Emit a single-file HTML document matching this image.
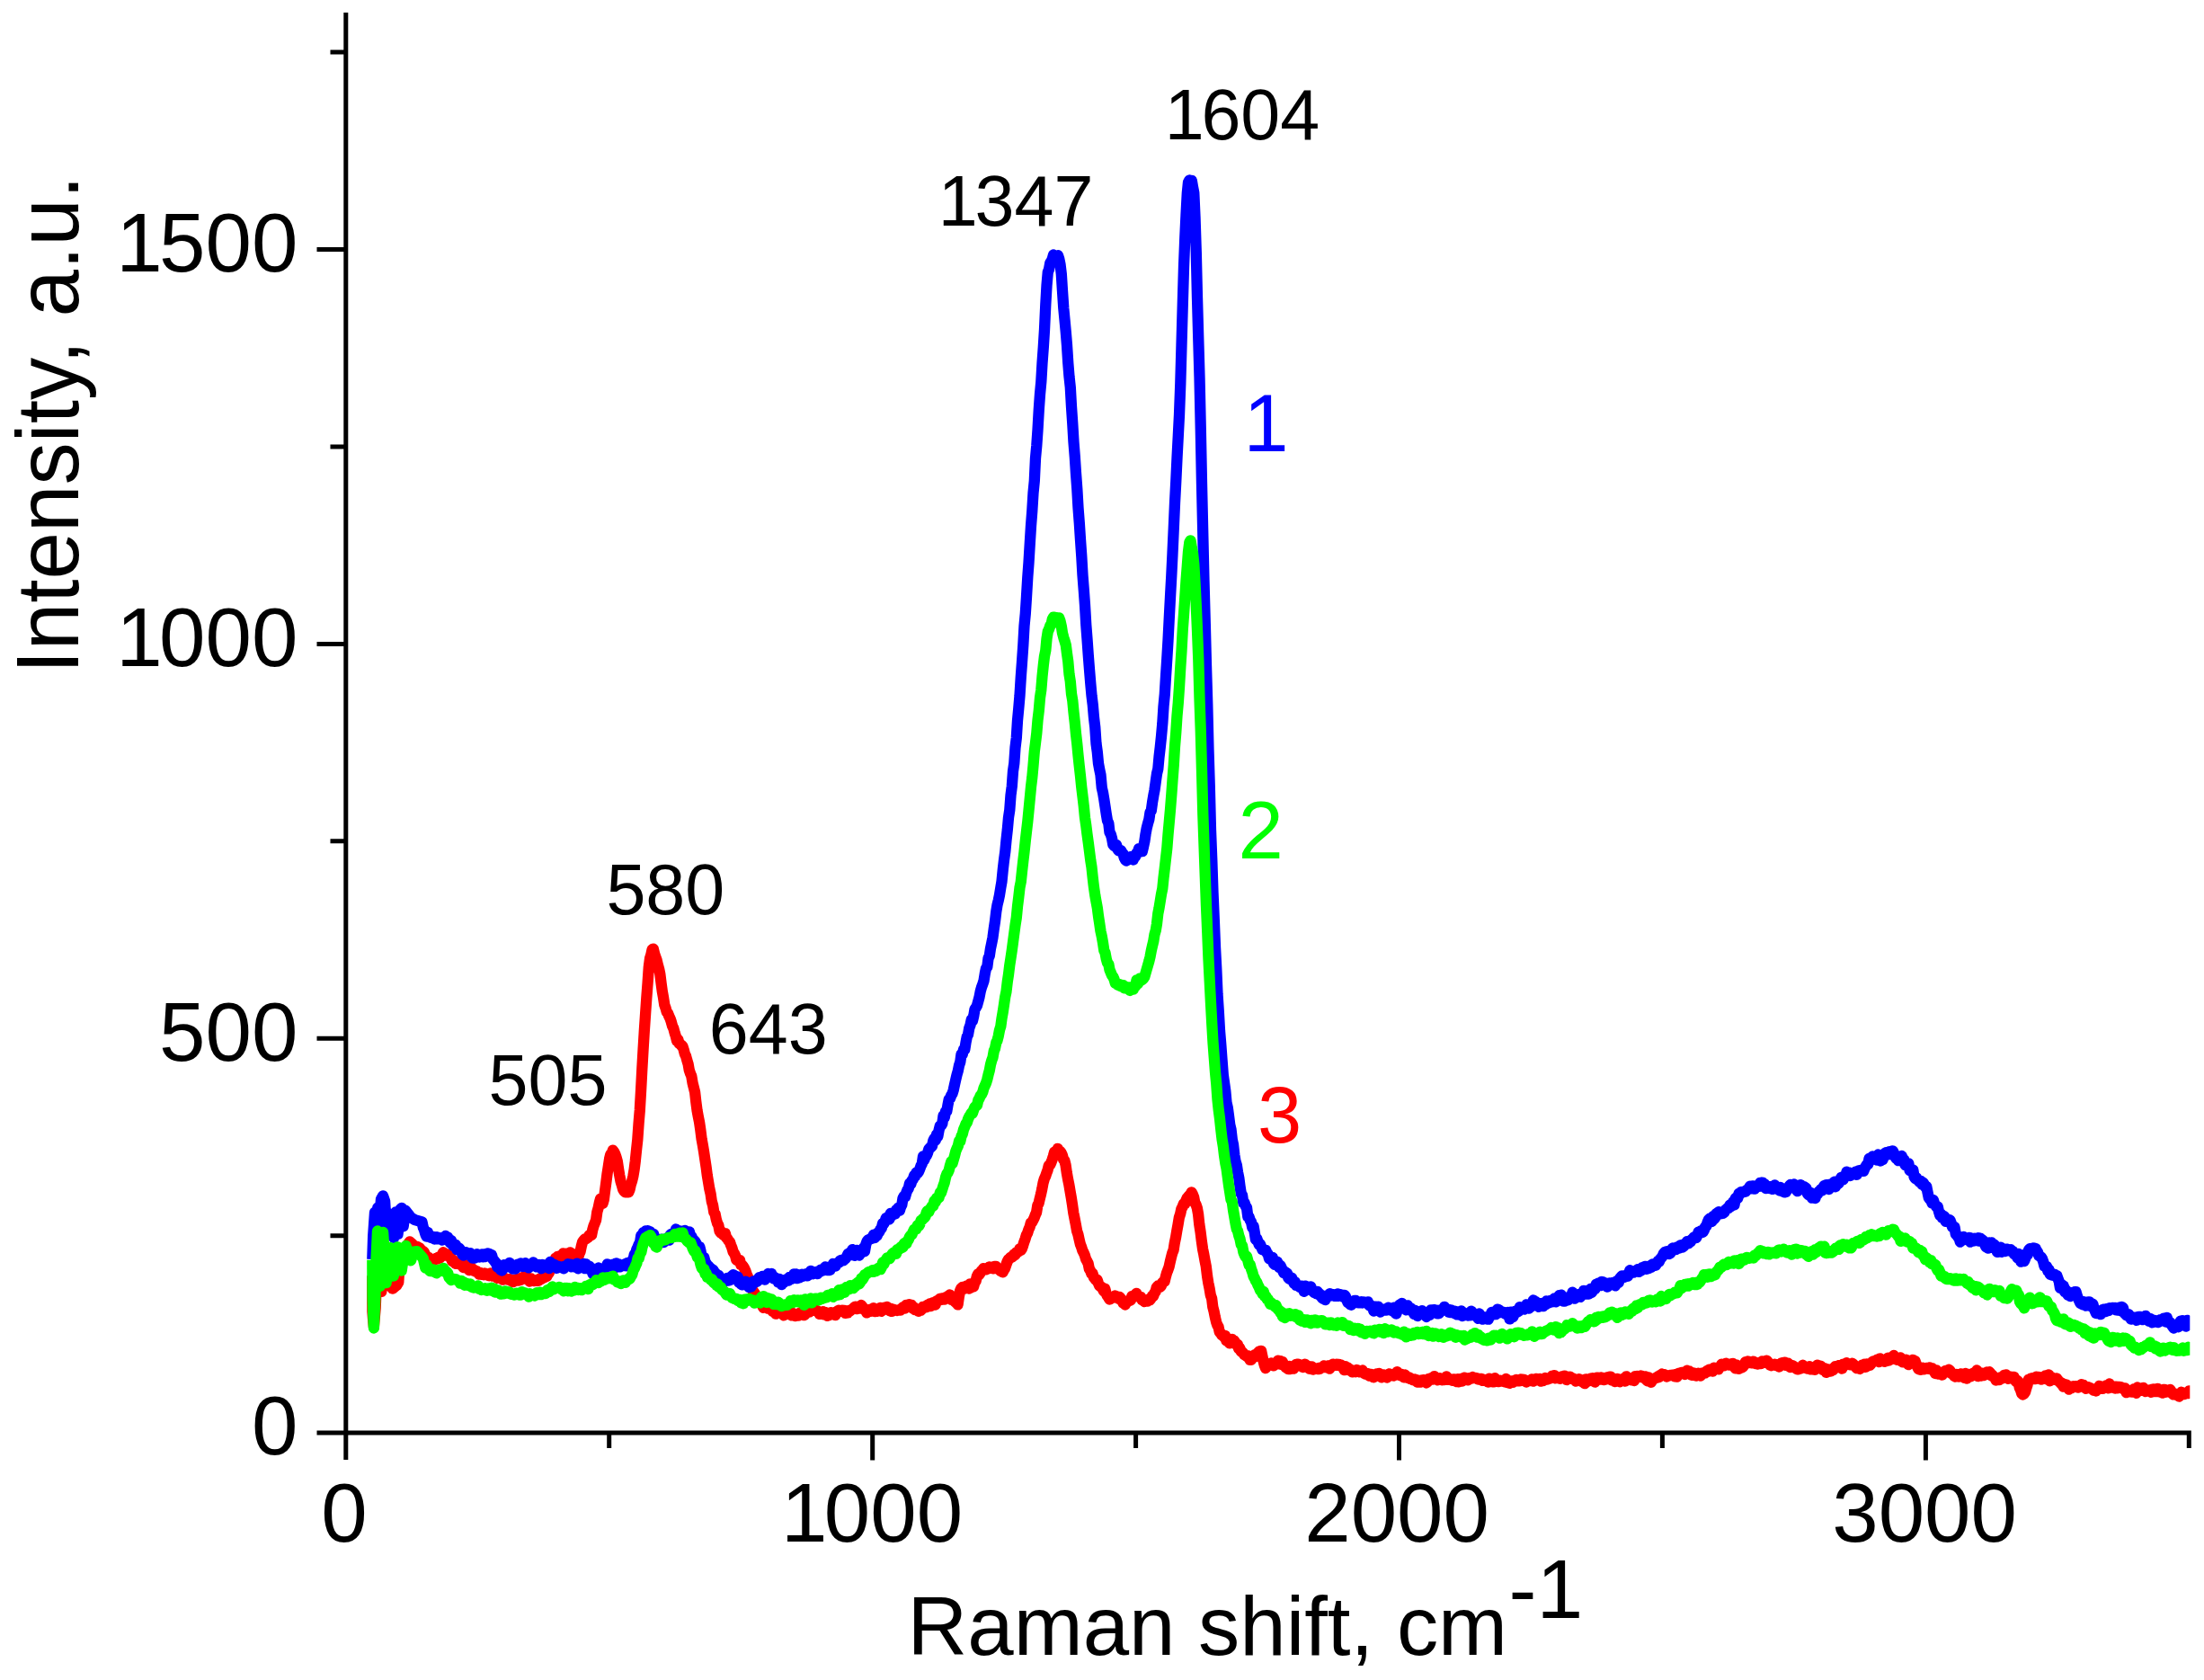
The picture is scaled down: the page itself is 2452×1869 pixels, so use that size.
<!DOCTYPE html>
<html lang="en">
<head>
<meta charset="utf-8">
<title>Raman spectra</title>
<style>
html,body{margin:0;padding:0;background:#fff;}
body{width:2452px;height:1869px;overflow:hidden;}
svg{display:block;}
</style>
</head>
<body>
<svg width="2452" height="1869" viewBox="0 0 2452 1869" font-family="'Liberation Sans', Arial, sans-serif">
<rect width="2452" height="1869" fill="#fff"/>
<defs><clipPath id="plotclip"><rect x="408.2" y="0" width="2028.1" height="1869"/></clipPath></defs>
<g clip-path="url(#plotclip)">
<polyline fill="none" stroke="#ff0000" stroke-width="12.3" stroke-linejoin="round" stroke-linecap="butt" points="414.1,1419.3 414.2,1458.8 415.9,1475.8 417.7,1455.1 419.1,1420.4 420.4,1399.1 422.0,1421.0 424.3,1436.9 426.5,1420.6 428.8,1409.3 432.2,1426.6 436.7,1433.6 441.2,1430.0 443.3,1426.5 444.2,1411.2 445.8,1397.7 449.2,1393.1 452.6,1385.9 455.9,1381.4 459.3,1384.6 460.6,1385.7 461.8,1386.8 463.1,1386.8 464.3,1386.8 465.6,1388.0 466.8,1388.2 468.1,1390.4 469.3,1393.0 470.6,1391.8 471.8,1393.0 473.1,1395.8 474.3,1397.3 475.6,1398.6 476.8,1398.8 478.1,1401.1 479.3,1403.0 480.6,1401.2 481.8,1402.6 483.1,1400.7 484.3,1401.0 485.6,1399.6 486.8,1400.7 488.1,1398.5 489.3,1399.4 490.6,1398.2 491.8,1396.8 493.1,1393.2 494.3,1395.3 495.6,1396.1 496.8,1396.8 498.1,1395.5 499.3,1397.9 500.6,1398.4 501.8,1399.7 503.1,1403.1 504.3,1401.9 505.6,1403.9 506.8,1405.9 508.1,1404.8 509.3,1405.8 510.6,1406.3 511.8,1406.6 513.1,1405.5 514.3,1407.8 515.6,1410.0 516.8,1407.0 518.1,1410.5 519.3,1410.1 520.6,1409.5 521.8,1413.1 523.1,1411.9 524.3,1410.1 525.6,1412.4 526.8,1413.7 528.1,1413.2 529.3,1414.7 530.6,1414.3 531.8,1415.9 533.1,1417.7 534.3,1416.0 535.6,1417.8 536.8,1417.4 538.1,1418.3 539.3,1416.6 540.6,1417.1 541.8,1417.5 543.1,1418.8 544.3,1419.3 545.6,1416.5 546.8,1417.5 548.1,1419.7 549.3,1416.9 550.6,1419.2 551.8,1420.0 553.1,1421.9 554.3,1421.4 555.6,1420.4 556.8,1420.6 558.1,1421.2 559.3,1423.7 560.6,1421.6 561.8,1422.0 563.1,1423.2 564.3,1423.2 565.6,1423.7 566.8,1423.1 568.1,1424.8 569.3,1424.4 570.6,1426.2 571.8,1425.2 573.1,1423.8 574.3,1424.4 575.6,1423.0 576.8,1424.7 578.1,1423.3 579.3,1423.9 580.6,1421.2 581.8,1422.9 583.1,1420.2 584.3,1419.7 585.6,1421.9 586.8,1421.2 588.1,1422.6 589.3,1425.6 590.6,1422.3 591.8,1423.2 593.1,1424.6 594.3,1425.1 595.6,1424.2 596.8,1424.0 598.1,1425.0 599.3,1424.6 600.6,1422.4 601.8,1423.1 603.1,1422.5 604.3,1420.4 605.6,1421.2 606.8,1418.9 608.1,1420.2 609.3,1418.0 610.6,1416.3 611.8,1413.4 613.1,1411.6 614.3,1406.7 615.6,1405.2 616.8,1404.6 618.1,1399.6 619.3,1402.0 620.6,1397.8 621.8,1400.0 623.1,1397.3 624.3,1398.6 625.6,1397.1 626.8,1394.3 628.1,1397.1 629.3,1396.9 630.6,1394.7 631.8,1394.3 633.1,1394.3 634.3,1393.4 635.6,1396.4 636.8,1394.9 638.1,1396.0 639.3,1395.6 640.6,1396.3 641.8,1395.8 643.1,1399.0 644.3,1395.1 645.6,1392.3 646.8,1386.4 648.1,1381.6 649.3,1380.0 650.6,1378.5 651.8,1378.5 653.1,1377.5 654.3,1376.7 655.6,1374.2 656.8,1373.3 658.1,1374.0 659.3,1368.0 660.6,1363.5 661.8,1360.6 663.1,1357.3 664.3,1348.4 665.6,1343.9 666.8,1338.2 668.1,1333.5 669.3,1336.6 670.6,1338.7 671.8,1334.5 673.1,1324.5 674.3,1315.6 675.6,1305.4 676.8,1297.7 678.1,1289.1 679.3,1284.3 680.6,1283.9 681.8,1279.7 683.1,1281.4 684.3,1283.9 685.6,1287.5 686.8,1291.9 688.1,1300.6 689.3,1307.8 690.6,1314.5 691.8,1318.4 693.1,1323.0 694.3,1325.0 695.6,1326.4 696.8,1326.3 698.1,1325.2 699.3,1326.4 700.6,1323.3 701.8,1317.8 703.1,1313.9 704.3,1308.9 705.6,1301.3 706.8,1291.7 708.1,1278.8 709.3,1268.0 710.6,1249.5 711.8,1235.2 713.1,1212.6 714.3,1189.6 715.6,1166.8 716.8,1147.2 718.1,1127.9 719.3,1110.3 720.6,1093.6 721.8,1076.0 723.1,1066.1 724.3,1062.2 725.6,1056.2 726.8,1055.6 728.1,1061.0 729.3,1064.5 730.6,1068.1 731.8,1073.2 733.1,1077.8 734.3,1083.5 735.6,1093.9 736.8,1102.9 738.1,1110.2 739.3,1118.0 740.6,1121.6 741.8,1126.0 743.1,1127.3 744.3,1130.6 745.6,1133.2 746.8,1136.8 748.1,1141.6 749.3,1144.0 750.6,1149.0 751.8,1152.7 753.1,1158.1 754.3,1156.5 755.6,1161.2 756.8,1161.6 758.1,1163.3 759.3,1163.7 760.6,1167.6 761.8,1172.3 763.1,1175.0 764.3,1179.5 765.6,1183.8 766.8,1190.6 768.1,1194.4 769.3,1197.2 770.6,1204.9 771.8,1209.7 773.1,1214.9 774.3,1225.7 775.6,1235.7 776.8,1242.1 778.1,1248.6 779.3,1256.9 780.6,1267.2 781.8,1273.7 783.1,1281.6 784.3,1289.7 785.6,1298.2 786.8,1307.5 788.1,1315.3 789.3,1322.5 790.6,1328.1 791.8,1336.5 793.1,1341.0 794.3,1348.5 795.6,1350.6 796.8,1356.5 798.1,1360.9 799.3,1363.0 800.6,1369.8 801.8,1371.5 803.1,1370.5 804.3,1373.5 805.6,1374.5 806.8,1372.1 808.1,1377.0 809.3,1378.2 810.6,1380.4 811.8,1381.4 813.1,1385.1 814.3,1388.0 815.6,1392.5 816.8,1394.3 818.1,1396.9 819.3,1401.7 820.6,1401.3 821.8,1403.0 823.1,1402.1 824.3,1407.1 825.6,1407.3 826.8,1408.8 828.1,1411.0 829.3,1413.6 830.6,1417.3 831.8,1420.2 833.1,1423.6 834.3,1427.3 835.6,1432.4 836.8,1434.5 838.1,1436.6 839.3,1438.3 840.6,1440.3 841.8,1445.0 843.1,1445.6 844.3,1447.0 845.6,1448.5 846.8,1449.5 848.1,1452.4 849.3,1454.8 850.6,1454.1 851.8,1454.6 853.1,1454.9 854.3,1455.6 855.6,1453.9 856.8,1456.0 858.1,1455.8 859.3,1458.7 860.6,1457.5 861.8,1459.9 863.1,1461.7 864.3,1459.7 865.6,1459.5 866.8,1460.6 868.1,1460.3 869.3,1459.2 870.6,1461.1 871.8,1463.3 873.1,1460.8 874.3,1461.1 875.6,1460.1 876.8,1461.8 878.1,1459.8 879.3,1460.1 880.6,1463.3 881.8,1460.8 883.1,1463.4 884.3,1464.0 885.6,1462.2 886.8,1462.3 888.1,1463.7 889.3,1460.9 890.6,1460.5 891.8,1459.7 893.1,1461.4 894.3,1463.2 895.6,1462.4 896.8,1459.9 898.1,1459.6 899.3,1459.4 900.6,1459.6 901.8,1458.3 903.1,1458.2 904.3,1457.8 905.6,1456.8 906.8,1457.2 908.1,1457.8 909.3,1458.1 910.6,1459.5 911.8,1461.9 913.1,1460.9 914.3,1460.8 915.6,1459.2 916.8,1462.4 918.1,1459.9 919.3,1460.8 920.6,1463.7 921.8,1463.4 923.1,1462.2 924.3,1460.2 925.6,1461.7 926.8,1460.9 928.1,1461.9 929.3,1463.2 930.6,1460.1 931.8,1458.5 933.1,1457.7 934.3,1458.9 935.6,1458.8 936.8,1457.7 938.1,1459.4 939.3,1458.0 940.6,1460.8 941.8,1460.7 943.1,1460.5 944.3,1458.0 945.6,1458.7 946.8,1457.4 948.1,1456.5 949.3,1456.0 950.6,1454.2 951.8,1453.6 953.1,1456.2 954.3,1454.9 955.6,1455.2 956.8,1455.7 958.1,1452.0 959.3,1453.4 960.6,1455.5 961.8,1457.2 963.1,1457.7 964.3,1460.4 965.6,1459.5 966.8,1457.1 968.1,1456.9 969.3,1458.7 970.6,1458.1 971.8,1455.2 973.1,1459.1 974.3,1458.2 975.6,1458.9 976.8,1456.5 978.1,1456.2 979.3,1454.8 980.6,1458.8 981.8,1455.2 983.1,1457.2 984.3,1454.6 985.6,1455.8 986.8,1453.9 988.1,1455.9 989.3,1458.0 990.6,1455.6 991.8,1458.9 993.1,1458.4 994.3,1456.8 995.6,1457.4 996.8,1457.4 998.1,1458.0 999.3,1457.6 1000.6,1457.4 1001.8,1457.6 1003.1,1456.0 1004.3,1454.6 1005.6,1455.2 1006.8,1455.5 1008.1,1451.9 1009.3,1453.3 1010.6,1452.0 1011.8,1451.2 1013.1,1453.2 1014.3,1452.0 1015.6,1455.6 1016.8,1454.3 1018.1,1457.2 1019.3,1457.3 1020.6,1457.0 1021.8,1458.8 1023.1,1457.7 1024.3,1457.9 1025.6,1456.2 1026.8,1453.9 1028.1,1454.2 1029.3,1453.7 1030.6,1454.3 1031.8,1451.7 1033.1,1452.6 1034.3,1450.3 1035.6,1453.0 1036.8,1450.5 1038.1,1449.1 1039.3,1450.7 1040.6,1451.5 1041.8,1447.4 1043.1,1447.0 1044.3,1446.3 1045.6,1444.9 1046.8,1446.1 1048.1,1444.4 1049.3,1444.3 1050.6,1445.7 1051.8,1443.5 1053.1,1444.4 1054.3,1442.1 1055.6,1441.4 1056.8,1440.5 1058.1,1445.7 1059.3,1444.2 1060.6,1446.4 1061.8,1447.5 1063.1,1448.9 1064.3,1449.6 1065.6,1451.4 1066.8,1442.8 1068.1,1436.0 1069.3,1433.3 1070.6,1432.0 1071.8,1433.9 1073.1,1433.5 1074.3,1431.1 1075.6,1430.4 1076.8,1431.5 1078.1,1433.6 1079.3,1428.3 1080.6,1432.3 1081.8,1429.8 1083.1,1431.3 1084.3,1427.0 1085.6,1425.2 1086.8,1420.2 1088.1,1417.4 1089.3,1418.1 1090.6,1416.1 1091.8,1413.9 1093.1,1412.8 1094.3,1411.1 1095.6,1412.4 1096.8,1412.4 1098.1,1411.8 1099.3,1411.3 1100.6,1409.5 1101.8,1410.2 1103.1,1409.7 1104.3,1410.9 1105.6,1411.4 1106.8,1408.9 1108.1,1408.8 1109.3,1410.8 1110.6,1411.3 1111.8,1412.3 1113.1,1414.0 1114.3,1413.3 1115.6,1415.3 1116.8,1413.0 1118.1,1410.9 1119.3,1407.3 1120.6,1403.6 1121.8,1401.2 1123.1,1400.4 1124.3,1398.8 1125.6,1398.9 1126.8,1397.9 1128.1,1395.4 1129.3,1396.2 1130.6,1393.3 1131.8,1393.1 1133.1,1392.5 1134.3,1389.5 1135.6,1391.1 1136.8,1389.3 1138.1,1385.8 1139.3,1381.8 1140.6,1378.3 1141.8,1374.3 1143.1,1371.9 1144.3,1368.0 1145.6,1365.2 1146.8,1360.5 1148.1,1359.8 1149.3,1357.6 1150.6,1355.0 1151.8,1351.6 1153.1,1348.8 1154.3,1341.2 1155.6,1338.7 1156.8,1333.4 1158.1,1328.2 1159.3,1322.6 1160.6,1315.7 1161.8,1311.5 1163.1,1308.7 1164.3,1305.1 1165.6,1301.7 1166.8,1296.6 1168.1,1296.0 1169.3,1293.5 1170.6,1290.1 1171.8,1286.4 1173.1,1281.6 1174.3,1282.6 1175.6,1280.6 1176.8,1277.8 1178.1,1282.0 1179.3,1280.7 1180.6,1282.4 1181.8,1285.1 1183.1,1289.9 1184.3,1291.1 1185.6,1296.3 1186.8,1304.7 1188.1,1312.0 1189.3,1317.8 1190.6,1325.5 1191.8,1332.4 1193.1,1340.8 1194.3,1349.3 1195.6,1356.0 1196.8,1362.1 1198.1,1369.4 1199.3,1372.9 1200.6,1378.8 1201.8,1383.9 1203.1,1387.2 1204.3,1391.1 1205.6,1393.6 1206.8,1396.4 1208.1,1400.9 1209.3,1402.9 1210.6,1405.5 1211.8,1411.5 1213.1,1413.7 1214.3,1416.9 1215.6,1417.0 1216.8,1420.9 1218.1,1422.6 1219.3,1424.1 1220.6,1423.7 1221.8,1427.3 1223.1,1430.2 1224.3,1431.2 1225.6,1431.7 1226.8,1434.1 1228.1,1436.5 1229.3,1433.7 1230.6,1438.7 1231.8,1441.4 1233.1,1443.2 1234.3,1445.5 1235.6,1445.0 1236.8,1443.8 1238.1,1443.5 1239.3,1443.6 1240.6,1441.6 1241.8,1442.0 1243.1,1443.2 1244.3,1444.8 1245.6,1443.0 1246.8,1444.3 1248.1,1446.1 1249.3,1449.1 1250.6,1448.9 1251.8,1451.5 1253.1,1448.3 1254.3,1448.4 1255.6,1447.1 1256.8,1447.0 1258.1,1446.2 1259.3,1442.1 1260.6,1441.9 1261.8,1442.5 1263.1,1440.4 1264.3,1438.9 1265.6,1442.0 1266.8,1442.0 1268.1,1443.1 1269.3,1443.2 1270.6,1446.2 1271.8,1445.7 1273.1,1448.1 1274.3,1446.2 1275.6,1446.5 1276.8,1447.6 1278.1,1445.7 1279.3,1446.3 1280.6,1444.6 1281.8,1441.9 1283.1,1441.9 1284.3,1438.7 1285.6,1436.9 1286.8,1432.1 1288.1,1430.7 1289.3,1431.5 1290.6,1431.8 1291.8,1430.5 1293.1,1427.0 1294.3,1425.8 1295.6,1425.5 1296.8,1420.6 1298.1,1415.8 1299.3,1413.0 1300.6,1409.3 1301.8,1403.7 1303.1,1398.4 1304.3,1393.8 1305.6,1390.7 1306.8,1382.7 1308.1,1376.5 1309.3,1369.2 1310.6,1362.1 1311.8,1354.7 1313.1,1350.7 1314.3,1345.1 1315.6,1342.6 1316.8,1339.2 1318.1,1339.5 1319.3,1335.9 1320.6,1332.9 1321.8,1331.6 1323.1,1329.9 1324.3,1329.6 1325.6,1326.4 1326.8,1328.5 1328.1,1331.7 1329.3,1338.2 1330.6,1340.2 1331.8,1343.7 1333.1,1350.8 1334.3,1362.3 1335.6,1370.8 1336.8,1380.4 1338.1,1389.7 1339.3,1395.6 1340.6,1402.9 1341.8,1408.9 1343.1,1419.7 1344.3,1427.2 1345.6,1433.4 1346.8,1440.8 1348.1,1444.3 1349.3,1454.0 1350.6,1459.0 1351.8,1465.2 1353.1,1470.7 1354.3,1474.1 1355.6,1476.4 1356.8,1482.1 1358.1,1483.1 1359.3,1485.3 1360.6,1486.1 1361.8,1487.4 1363.1,1485.9 1364.3,1491.3 1365.6,1491.1 1366.8,1492.9 1368.1,1494.4 1369.3,1492.1 1370.6,1489.9 1371.8,1491.2 1373.1,1491.5 1374.3,1493.6 1375.6,1496.1 1376.8,1495.5 1378.1,1500.3 1379.3,1499.8 1380.6,1503.4 1381.8,1504.1 1383.1,1505.3 1384.3,1507.1 1385.6,1507.8 1386.8,1508.8 1388.1,1508.1 1389.3,1510.5 1390.6,1512.9 1391.8,1512.8 1393.1,1511.5 1394.3,1510.0 1395.6,1507.4 1396.8,1509.0 1398.1,1506.1 1399.3,1505.1 1400.6,1503.8 1401.8,1503.3 1403.1,1502.8 1404.3,1508.6 1405.6,1514.4 1406.8,1518.9 1408.1,1522.1 1409.3,1518.8 1410.6,1518.0 1411.8,1518.5 1413.1,1518.5 1414.3,1516.4 1415.6,1517.9 1416.8,1519.4 1418.1,1518.3 1419.3,1517.1 1420.6,1517.5 1421.8,1513.7 1423.1,1514.3 1424.3,1514.2 1425.6,1517.9 1426.8,1515.0 1428.1,1517.9 1429.3,1519.1 1430.6,1521.4 1431.8,1521.9 1433.1,1523.2 1434.3,1519.8 1435.6,1523.0 1436.8,1522.1 1438.1,1521.8 1439.3,1522.6 1440.6,1520.1 1441.8,1518.0 1443.1,1519.5 1444.3,1517.6 1445.6,1518.4 1446.8,1519.6 1448.1,1519.4 1449.3,1521.0 1450.6,1518.9 1451.8,1517.6 1453.1,1519.1 1454.3,1519.6 1455.6,1520.0 1456.8,1522.8 1458.1,1521.9 1459.3,1520.4 1460.6,1523.5 1461.8,1522.4 1463.1,1523.0 1464.3,1522.6 1465.6,1523.1 1466.8,1522.0 1468.1,1523.0 1469.3,1521.6 1470.6,1521.4 1471.8,1521.4 1473.1,1519.3 1474.3,1521.1 1475.6,1521.0 1476.8,1521.5 1478.1,1519.3 1479.3,1522.6 1480.6,1520.4 1481.8,1518.5 1483.1,1517.6 1484.3,1519.0 1485.6,1518.8 1486.8,1517.8 1488.1,1518.7 1489.3,1517.9 1490.6,1519.5 1491.8,1518.3 1493.1,1519.8 1494.3,1521.7 1495.6,1524.2 1496.8,1520.1 1498.1,1521.2 1499.3,1521.4 1500.6,1524.4 1501.8,1523.2 1503.1,1525.0 1504.3,1526.3 1505.6,1525.6 1506.8,1525.8 1508.1,1526.3 1509.3,1524.0 1510.6,1524.5 1511.8,1525.6 1513.1,1526.4 1514.3,1526.2 1515.6,1524.5 1516.8,1526.5 1518.1,1528.4 1519.3,1528.7 1520.6,1528.6 1521.8,1528.2 1523.1,1530.5 1524.3,1529.4 1525.6,1528.9 1526.8,1529.6 1528.1,1532.3 1529.3,1530.3 1530.6,1530.8 1531.8,1528.3 1533.1,1529.8 1534.3,1527.9 1535.6,1528.7 1536.8,1532.3 1538.1,1530.6 1539.3,1529.5 1540.6,1530.5 1541.8,1531.4 1543.1,1532.5 1544.3,1530.3 1545.6,1528.4 1546.8,1529.9 1548.1,1529.9 1549.3,1529.6 1550.6,1530.6 1551.8,1528.8 1553.1,1528.9 1554.3,1526.1 1555.6,1528.4 1556.8,1530.0 1558.1,1528.8 1559.3,1528.9 1560.6,1529.6 1561.8,1532.3 1563.1,1529.5 1564.3,1530.9 1565.6,1532.1 1566.8,1533.1 1568.1,1532.4 1569.3,1534.1 1570.6,1534.0 1571.8,1535.1 1573.1,1535.3 1574.3,1534.5 1575.6,1536.2 1576.8,1537.7 1578.1,1535.7 1579.3,1536.7 1580.6,1537.7 1581.8,1535.5 1583.1,1536.9 1584.3,1535.1 1585.6,1537.4 1586.8,1538.4 1588.1,1537.4 1589.3,1534.0 1590.6,1534.5 1591.8,1533.2 1593.1,1532.9 1594.3,1534.6 1595.6,1531.1 1596.8,1534.1 1598.1,1533.1 1599.3,1535.3 1600.6,1534.2 1601.8,1533.4 1603.1,1534.7 1604.3,1535.3 1605.6,1534.5 1606.8,1535.0 1608.1,1533.5 1609.3,1531.3 1610.6,1534.9 1611.8,1534.7 1613.1,1534.2 1614.3,1534.3 1615.6,1535.8 1616.8,1534.3 1618.1,1534.3 1619.3,1535.2 1620.6,1537.2 1621.8,1534.1 1623.1,1537.3 1624.3,1534.8 1625.6,1534.0 1626.8,1536.5 1628.1,1534.4 1629.3,1532.6 1630.6,1533.5 1631.8,1535.0 1633.1,1535.3 1634.3,1533.2 1635.6,1533.9 1636.8,1533.9 1638.1,1532.0 1639.3,1533.2 1640.6,1533.0 1641.8,1532.8 1643.1,1533.4 1644.3,1534.5 1645.6,1534.7 1646.8,1533.9 1648.1,1534.0 1649.3,1535.9 1650.6,1534.8 1651.8,1535.8 1653.1,1536.3 1654.3,1535.6 1655.6,1537.6 1656.8,1533.6 1658.1,1535.6 1659.3,1534.4 1660.6,1537.3 1661.8,1537.4 1663.1,1533.2 1664.3,1534.6 1665.6,1536.8 1666.8,1537.1 1668.1,1536.9 1669.3,1535.8 1670.6,1536.3 1671.8,1536.5 1673.1,1535.7 1674.3,1537.4 1675.6,1533.9 1676.8,1538.0 1678.1,1536.2 1679.3,1538.8 1680.6,1537.2 1681.8,1536.3 1683.1,1537.8 1684.3,1536.1 1685.6,1536.0 1686.8,1534.9 1688.1,1536.3 1689.3,1536.4 1690.6,1536.4 1691.8,1534.5 1693.1,1535.7 1694.3,1534.6 1695.6,1535.0 1696.8,1536.5 1698.1,1537.6 1699.3,1536.2 1700.6,1536.2 1701.8,1536.0 1703.1,1536.0 1704.3,1534.4 1705.6,1536.6 1706.8,1534.7 1708.1,1535.6 1709.3,1533.9 1710.6,1535.2 1711.8,1535.1 1713.1,1533.9 1714.3,1536.7 1715.6,1534.5 1716.8,1536.1 1718.1,1535.0 1719.3,1533.1 1720.6,1533.5 1721.8,1534.5 1723.1,1533.9 1724.3,1533.6 1725.6,1532.9 1726.8,1530.8 1728.1,1532.7 1729.3,1530.1 1730.6,1533.4 1731.8,1532.2 1733.1,1532.4 1734.3,1533.2 1735.6,1533.9 1736.8,1531.7 1738.1,1531.2 1739.3,1532.0 1740.6,1530.7 1741.8,1531.9 1743.1,1535.0 1744.3,1531.7 1745.6,1533.9 1746.8,1531.6 1748.1,1533.8 1749.3,1533.2 1750.6,1533.7 1751.8,1534.7 1753.1,1536.6 1754.3,1535.1 1755.6,1535.4 1756.8,1534.1 1758.1,1536.2 1759.3,1535.4 1760.6,1537.3 1761.8,1536.7 1763.1,1539.2 1764.3,1534.3 1765.6,1535.8 1766.8,1536.6 1768.1,1534.6 1769.3,1533.8 1770.6,1534.5 1771.8,1533.1 1773.1,1534.9 1774.3,1537.6 1775.6,1535.8 1776.8,1532.7 1778.1,1532.6 1779.3,1532.9 1780.6,1534.6 1781.8,1532.6 1783.1,1533.0 1784.3,1535.0 1785.6,1534.9 1786.8,1533.2 1788.1,1532.4 1789.3,1532.0 1790.6,1533.3 1791.8,1531.6 1793.1,1535.4 1794.3,1533.8 1795.6,1535.3 1796.8,1537.1 1798.1,1536.4 1799.3,1533.8 1800.6,1536.6 1801.8,1537.1 1803.1,1534.9 1804.3,1534.6 1805.6,1535.5 1806.8,1533.3 1808.1,1536.5 1809.3,1531.3 1810.6,1532.6 1811.8,1533.7 1813.1,1534.0 1814.3,1534.9 1815.6,1535.4 1816.8,1534.9 1818.1,1536.0 1819.3,1531.1 1820.6,1532.8 1821.8,1531.2 1823.1,1531.9 1824.3,1531.9 1825.6,1530.5 1826.8,1530.9 1828.1,1532.8 1829.3,1532.4 1830.6,1531.4 1831.8,1535.3 1833.1,1536.3 1834.3,1532.4 1835.6,1535.0 1836.8,1537.9 1838.1,1535.6 1839.3,1534.6 1840.6,1533.8 1841.8,1533.1 1843.1,1532.8 1844.3,1531.5 1845.6,1532.2 1846.8,1530.0 1848.1,1529.5 1849.3,1528.5 1850.6,1530.1 1851.8,1529.2 1853.1,1530.1 1854.3,1531.5 1855.6,1530.4 1856.8,1530.4 1858.1,1530.1 1859.3,1529.8 1860.6,1529.7 1861.8,1529.7 1863.1,1531.3 1864.3,1529.0 1865.6,1531.7 1866.8,1529.5 1868.1,1527.8 1869.3,1527.5 1870.6,1527.0 1871.8,1527.9 1873.1,1526.7 1874.3,1529.0 1875.6,1526.6 1876.8,1524.7 1878.1,1526.7 1879.3,1525.3 1880.6,1528.1 1881.8,1529.9 1883.1,1529.8 1884.3,1527.4 1885.6,1527.9 1886.8,1530.6 1888.1,1528.4 1889.3,1527.8 1890.6,1529.0 1891.8,1530.6 1893.1,1529.0 1894.3,1527.4 1895.6,1527.5 1896.8,1527.6 1898.1,1525.8 1899.3,1524.9 1900.6,1525.7 1901.8,1523.6 1903.1,1523.8 1904.3,1523.2 1905.6,1525.6 1906.8,1521.6 1908.1,1522.6 1909.3,1522.6 1910.6,1523.1 1911.8,1523.3 1913.1,1520.6 1914.3,1519.3 1915.6,1517.6 1916.8,1517.9 1918.1,1519.4 1919.3,1518.5 1920.6,1516.9 1921.8,1517.5 1923.1,1517.9 1924.3,1518.6 1925.6,1517.5 1926.8,1518.3 1928.1,1516.9 1929.3,1518.3 1930.6,1522.4 1931.8,1518.5 1933.1,1521.5 1934.3,1522.8 1935.6,1522.4 1936.8,1521.5 1938.1,1521.5 1939.3,1520.3 1940.6,1518.8 1941.8,1515.2 1943.1,1516.1 1944.3,1514.5 1945.6,1514.8 1946.8,1515.7 1948.1,1516.2 1949.3,1516.4 1950.6,1514.6 1951.8,1516.5 1953.1,1517.0 1954.3,1517.1 1955.6,1517.6 1956.8,1515.8 1958.1,1515.8 1959.3,1517.1 1960.6,1514.3 1961.8,1516.1 1963.1,1515.0 1964.3,1515.2 1965.6,1513.7 1966.8,1515.2 1968.1,1516.9 1969.3,1518.6 1970.6,1519.2 1971.8,1518.3 1973.1,1518.4 1974.3,1517.7 1975.6,1519.1 1976.8,1518.2 1978.1,1519.2 1979.3,1520.6 1980.6,1518.5 1981.8,1516.6 1983.1,1517.0 1984.3,1515.8 1985.6,1515.7 1986.8,1518.8 1988.1,1518.0 1989.3,1516.6 1990.6,1519.9 1991.8,1521.1 1993.1,1519.3 1994.3,1519.2 1995.6,1520.0 1996.8,1521.3 1998.1,1522.4 1999.3,1523.4 2000.6,1523.3 2001.8,1522.8 2003.1,1522.5 2004.3,1521.4 2005.6,1518.7 2006.8,1520.7 2008.1,1521.6 2009.3,1521.0 2010.6,1522.6 2011.8,1520.9 2013.1,1520.2 2014.3,1523.3 2015.6,1522.8 2016.8,1522.6 2018.1,1523.7 2019.3,1523.8 2020.6,1522.6 2021.8,1518.6 2023.1,1520.2 2024.3,1520.2 2025.6,1519.7 2026.8,1521.9 2028.1,1524.1 2029.3,1522.8 2030.6,1522.5 2031.8,1526.8 2033.1,1524.2 2034.3,1523.6 2035.6,1525.5 2036.8,1525.5 2038.1,1523.4 2039.3,1524.3 2040.6,1521.7 2041.8,1520.2 2043.1,1520.8 2044.3,1521.0 2045.6,1519.1 2046.8,1520.2 2048.1,1519.4 2049.3,1522.6 2050.6,1517.6 2051.8,1519.4 2053.1,1516.9 2054.3,1516.3 2055.6,1517.2 2056.8,1517.6 2058.1,1518.3 2059.3,1517.5 2060.6,1516.8 2061.8,1517.4 2063.1,1519.5 2064.3,1520.4 2065.6,1522.2 2066.8,1521.5 2068.1,1522.5 2069.3,1522.9 2070.6,1521.0 2071.8,1518.6 2073.1,1518.5 2074.3,1517.7 2075.6,1520.9 2076.8,1517.4 2078.1,1519.4 2079.3,1518.0 2080.6,1518.6 2081.8,1517.0 2083.1,1515.0 2084.3,1514.3 2085.6,1514.2 2086.8,1513.9 2088.1,1512.7 2089.3,1513.2 2090.6,1515.2 2091.8,1511.3 2093.1,1513.8 2094.3,1512.6 2095.6,1514.0 2096.8,1514.9 2098.1,1513.5 2099.3,1514.0 2100.6,1510.6 2101.8,1513.4 2103.1,1510.9 2104.3,1512.2 2105.6,1511.5 2106.8,1507.9 2108.1,1510.0 2109.3,1511.2 2110.6,1512.8 2111.8,1511.6 2113.1,1512.0 2114.3,1510.4 2115.6,1514.5 2116.8,1515.4 2118.1,1513.8 2119.3,1514.0 2120.6,1512.6 2121.8,1515.9 2123.1,1518.1 2124.3,1515.6 2125.6,1516.1 2126.8,1514.9 2128.1,1512.8 2129.3,1516.1 2130.6,1514.2 2131.8,1517.5 2133.1,1520.4 2134.3,1523.1 2135.6,1523.6 2136.8,1523.9 2138.1,1522.4 2139.3,1521.7 2140.6,1523.4 2141.8,1522.6 2143.1,1521.9 2144.3,1522.0 2145.6,1522.9 2146.8,1521.3 2148.1,1522.2 2149.3,1522.1 2150.6,1524.6 2151.8,1525.4 2153.1,1528.0 2154.3,1524.4 2155.6,1526.1 2156.8,1528.7 2158.1,1527.5 2159.3,1527.3 2160.6,1529.7 2161.8,1527.0 2163.1,1525.7 2164.3,1525.0 2165.6,1526.4 2166.8,1525.9 2168.1,1523.7 2169.3,1524.7 2170.6,1527.5 2171.8,1528.7 2173.1,1528.5 2174.3,1531.0 2175.6,1531.6 2176.8,1528.9 2178.1,1530.7 2179.3,1531.5 2180.6,1530.2 2181.8,1528.3 2183.1,1530.5 2184.3,1531.8 2185.6,1532.8 2186.8,1528.0 2188.1,1533.6 2189.3,1528.8 2190.6,1531.2 2191.8,1531.6 2193.1,1531.1 2194.3,1529.7 2195.6,1527.5 2196.8,1529.1 2198.1,1526.8 2199.3,1524.4 2200.6,1531.1 2201.8,1528.9 2203.1,1530.7 2204.3,1527.5 2205.6,1530.3 2206.8,1530.1 2208.1,1529.7 2209.3,1527.6 2210.6,1526.3 2211.8,1528.0 2213.1,1526.2 2214.3,1527.6 2215.6,1530.6 2216.8,1530.0 2218.1,1531.8 2219.3,1532.5 2220.6,1535.5 2221.8,1535.0 2223.1,1533.5 2224.3,1535.1 2225.6,1532.5 2226.8,1532.5 2228.1,1533.3 2229.3,1530.0 2230.6,1530.8 2231.8,1529.4 2233.1,1531.4 2234.3,1533.8 2235.6,1531.3 2236.8,1532.9 2238.1,1531.9 2239.3,1531.8 2240.6,1531.9 2241.8,1535.6 2243.1,1537.3 2244.3,1535.9 2245.6,1537.3 2246.8,1543.8 2248.1,1546.5 2249.3,1550.6 2250.6,1551.4 2251.8,1550.5 2253.1,1548.6 2254.3,1544.4 2255.6,1540.3 2256.8,1534.8 2258.1,1535.1 2259.3,1533.5 2260.6,1534.5 2261.8,1533.0 2263.1,1533.9 2264.3,1534.1 2265.6,1531.7 2266.8,1532.3 2268.1,1531.9 2269.3,1533.7 2270.6,1534.5 2271.8,1533.2 2273.1,1531.6 2274.3,1533.9 2275.6,1530.3 2276.8,1534.3 2278.1,1531.8 2279.3,1529.4 2280.6,1536.3 2281.8,1535.3 2283.1,1532.5 2284.3,1534.4 2285.6,1534.3 2286.8,1535.0 2288.1,1533.5 2289.3,1534.9 2290.6,1537.0 2291.8,1537.5 2293.1,1539.5 2294.3,1538.9 2295.6,1542.7 2296.8,1540.0 2298.1,1542.4 2299.3,1540.7 2300.6,1542.2 2301.8,1545.6 2303.1,1542.8 2304.3,1544.4 2305.6,1543.5 2306.8,1542.2 2308.1,1542.8 2309.3,1542.4 2310.6,1542.2 2311.8,1543.5 2313.1,1543.1 2314.3,1541.2 2315.6,1540.3 2316.8,1541.5 2318.1,1541.0 2319.3,1542.5 2320.6,1544.9 2321.8,1543.3 2323.1,1543.1 2324.3,1543.9 2325.6,1544.1 2326.8,1545.0 2328.1,1545.6 2329.3,1546.8 2330.6,1546.7 2331.8,1547.5 2333.1,1545.0 2334.3,1544.0 2335.6,1541.8 2336.8,1544.9 2338.1,1543.4 2339.3,1544.9 2340.6,1543.4 2341.8,1543.9 2343.1,1541.3 2344.3,1542.0 2345.6,1544.3 2346.8,1539.5 2348.1,1542.7 2349.3,1543.7 2350.6,1542.5 2351.8,1543.4 2353.1,1544.5 2354.3,1542.6 2355.6,1544.3 2356.8,1542.8 2358.1,1543.0 2359.3,1543.1 2360.6,1543.9 2361.8,1544.8 2363.1,1545.9 2364.3,1544.3 2365.6,1549.2 2366.8,1548.5 2368.1,1548.2 2369.3,1547.1 2370.6,1547.7 2371.8,1548.6 2373.1,1548.3 2374.3,1545.2 2375.6,1547.6 2376.8,1549.8 2378.1,1543.5 2379.3,1546.9 2380.6,1546.0 2381.8,1545.2 2383.1,1546.9 2384.3,1543.8 2385.6,1545.9 2386.8,1548.1 2388.1,1546.5 2389.3,1546.6 2390.6,1547.3 2391.8,1546.5 2393.1,1548.9 2394.3,1545.6 2395.6,1547.9 2396.8,1545.4 2398.1,1548.2 2399.3,1547.7 2400.6,1544.9 2401.8,1548.3 2403.1,1546.8 2404.3,1547.4 2405.6,1549.6 2406.8,1546.0 2408.1,1545.9 2409.3,1548.9 2410.6,1546.9 2411.8,1548.4 2413.1,1546.9 2414.3,1545.8 2415.6,1547.8 2416.8,1550.6 2418.1,1551.4 2419.3,1551.2 2420.6,1551.7 2421.8,1551.5 2423.1,1550.7 2424.3,1553.5 2425.6,1550.6 2426.8,1548.8 2428.1,1549.4 2429.3,1551.0 2430.6,1551.0 2431.8,1550.2 2433.1,1549.5 2434.3,1550.1 2435.6,1547.4 2439.4,1547.4"/>
<polyline fill="none" stroke="#0000ff" stroke-width="12.3" stroke-linejoin="round" stroke-linecap="butt" points="414.1,1401.0 415.2,1374.6 417.0,1348.6 418.6,1375.7 420.2,1343.5 422.0,1358.0 424.0,1334.0 426.1,1330.4 428.1,1336.2 429.9,1366.4 431.7,1349.8 433.8,1373.6 435.8,1353.7 438.1,1376.9 440.3,1348.3 442.6,1372.9 444.9,1345.9 446.9,1343.9 448.7,1364.3 451.0,1346.6 453.7,1350.0 457.1,1354.5 461.6,1357.1 469.5,1359.4 470.8,1365.6 472.0,1368.3 473.3,1372.8 474.5,1375.6 475.8,1371.0 477.0,1375.8 478.3,1376.3 479.5,1376.8 480.8,1377.2 482.0,1376.0 483.3,1378.5 484.5,1376.6 485.8,1376.3 487.0,1378.3 488.3,1378.0 489.5,1377.4 490.8,1377.2 492.0,1379.6 493.3,1377.2 494.5,1376.1 495.8,1375.0 497.0,1376.6 498.3,1376.6 499.5,1380.3 500.8,1382.5 502.0,1380.0 503.3,1384.6 504.5,1386.1 505.8,1385.8 507.0,1384.9 508.3,1390.2 509.5,1388.2 510.8,1388.6 512.0,1390.1 513.3,1393.0 514.5,1395.6 515.8,1396.6 517.0,1395.3 518.3,1393.2 519.5,1394.4 520.8,1394.3 522.0,1396.2 523.3,1394.2 524.5,1398.2 525.8,1399.6 527.0,1398.5 528.3,1399.6 529.5,1396.8 530.8,1395.3 532.0,1396.0 533.3,1398.6 534.5,1398.1 535.8,1395.5 537.0,1398.3 538.3,1395.4 539.5,1398.2 540.8,1396.1 542.0,1394.5 543.3,1397.0 544.5,1395.0 545.8,1395.8 547.0,1396.2 548.3,1400.8 549.5,1402.1 550.8,1403.9 552.0,1405.0 553.3,1409.7 554.5,1407.6 555.8,1408.2 557.0,1412.6 558.3,1413.5 559.5,1411.6 560.8,1407.2 562.0,1407.8 563.3,1408.6 564.5,1406.7 565.8,1409.4 567.0,1404.9 568.3,1409.3 569.5,1407.8 570.8,1411.7 572.0,1409.5 573.3,1411.5 574.5,1408.4 575.8,1406.7 577.0,1406.6 578.3,1406.8 579.5,1405.5 580.8,1408.9 582.0,1409.0 583.3,1407.2 584.5,1405.2 585.8,1407.3 587.0,1406.7 588.3,1410.4 589.5,1408.2 590.8,1408.3 592.0,1406.9 593.3,1404.4 594.5,1407.1 595.8,1406.8 597.0,1409.4 598.3,1408.8 599.5,1407.2 600.8,1407.9 602.0,1411.3 603.3,1406.9 604.5,1407.2 605.8,1408.5 607.0,1407.8 608.3,1408.1 609.5,1409.5 610.8,1411.0 612.0,1404.0 613.3,1406.4 614.5,1406.3 615.8,1406.5 617.0,1407.2 618.3,1407.8 619.5,1410.8 620.8,1408.6 622.0,1409.3 623.3,1409.7 624.5,1409.9 625.8,1409.4 627.0,1411.3 628.3,1409.1 629.5,1408.9 630.8,1408.1 632.0,1406.2 633.3,1406.7 634.5,1406.7 635.8,1409.3 637.0,1407.9 638.3,1407.3 639.5,1409.5 640.8,1409.8 642.0,1405.6 643.3,1411.3 644.5,1407.9 645.8,1407.3 647.0,1408.9 648.3,1406.9 649.5,1405.8 650.8,1411.2 652.0,1406.3 653.3,1408.9 654.5,1411.4 655.8,1408.8 657.0,1411.3 658.3,1412.8 659.5,1417.0 660.8,1411.7 662.0,1413.4 663.3,1414.6 664.5,1413.2 665.8,1410.5 667.0,1413.1 668.3,1412.4 669.5,1412.7 670.8,1413.3 672.0,1412.3 673.3,1410.4 674.5,1409.3 675.8,1406.3 677.0,1407.8 678.3,1408.6 679.5,1407.7 680.8,1408.6 682.0,1406.6 683.3,1410.0 684.5,1410.3 685.8,1405.4 687.0,1406.9 688.3,1406.3 689.5,1409.4 690.8,1408.2 692.0,1407.7 693.3,1407.4 694.5,1408.2 695.8,1406.1 697.0,1408.3 698.3,1404.9 699.5,1406.0 700.8,1404.5 702.0,1405.5 703.3,1402.1 704.5,1401.7 705.8,1395.4 707.0,1394.8 708.3,1390.0 709.5,1387.7 710.8,1384.3 712.0,1382.6 713.3,1374.4 714.5,1376.0 715.8,1371.1 717.0,1375.3 718.3,1369.3 719.5,1370.6 720.8,1369.1 722.0,1374.8 723.3,1370.1 724.5,1373.5 725.8,1373.7 727.0,1372.8 728.3,1376.7 729.5,1379.5 730.8,1378.6 732.0,1380.9 733.3,1379.0 734.5,1379.8 735.8,1378.9 737.0,1379.8 738.3,1382.1 739.5,1379.3 740.8,1379.0 742.0,1377.5 743.3,1376.7 744.5,1379.7 745.8,1373.8 747.0,1372.8 748.3,1373.0 749.5,1371.6 750.8,1375.3 752.0,1367.5 753.3,1372.3 754.5,1372.7 755.8,1369.2 757.0,1369.7 758.3,1371.4 759.5,1373.5 760.8,1369.4 762.0,1368.9 763.3,1374.1 764.5,1375.8 765.8,1373.1 767.0,1370.4 768.3,1377.5 769.5,1375.7 770.8,1379.6 772.0,1379.6 773.3,1381.2 774.5,1383.2 775.8,1388.8 777.0,1390.9 778.3,1387.1 779.5,1391.8 780.8,1399.3 782.0,1398.2 783.3,1398.9 784.5,1403.7 785.8,1405.8 787.0,1407.8 788.3,1408.6 789.5,1410.1 790.8,1411.0 792.0,1413.5 793.3,1412.7 794.5,1414.9 795.8,1416.3 797.0,1419.7 798.3,1418.9 799.5,1418.9 800.8,1421.1 802.0,1422.0 803.3,1424.0 804.5,1423.4 805.8,1425.7 807.0,1424.7 808.3,1422.3 809.5,1421.9 810.8,1424.6 812.0,1424.1 813.3,1422.6 814.5,1419.5 815.8,1418.1 817.0,1421.4 818.3,1422.0 819.5,1422.7 820.8,1420.5 822.0,1426.6 823.3,1425.8 824.5,1428.9 825.8,1429.3 827.0,1427.3 828.3,1427.9 829.5,1425.7 830.8,1428.5 832.0,1427.7 833.3,1432.1 834.5,1430.9 835.8,1431.2 837.0,1428.6 838.3,1425.5 839.5,1426.5 840.8,1424.8 842.0,1426.0 843.3,1424.7 844.5,1421.2 845.8,1421.9 847.0,1421.1 848.3,1420.0 849.5,1422.1 850.8,1423.7 852.0,1420.3 853.3,1420.4 854.5,1417.0 855.8,1420.6 857.0,1420.0 858.3,1417.0 859.5,1421.4 860.8,1422.5 862.0,1421.1 863.3,1422.8 864.5,1422.8 865.8,1426.6 867.0,1422.9 868.3,1425.1 869.5,1429.1 870.8,1425.9 872.0,1426.7 873.3,1425.6 874.5,1423.5 875.8,1424.8 877.0,1424.6 878.3,1420.9 879.5,1422.1 880.8,1422.8 882.0,1422.1 883.3,1417.4 884.5,1418.6 885.8,1417.5 887.0,1422.1 888.3,1421.2 889.5,1421.3 890.8,1418.4 892.0,1417.8 893.3,1419.7 894.5,1419.4 895.8,1417.4 897.0,1418.8 898.3,1419.4 899.5,1418.5 900.8,1416.0 902.0,1413.9 903.3,1416.8 904.5,1417.2 905.8,1416.2 907.0,1415.7 908.3,1415.0 909.5,1417.1 910.8,1415.2 912.0,1415.0 913.3,1412.6 914.5,1412.7 915.8,1413.4 917.0,1410.6 918.3,1409.5 919.5,1410.7 920.8,1413.2 922.0,1411.1 923.3,1413.0 924.5,1409.8 925.8,1408.8 927.0,1405.9 928.3,1406.2 929.5,1408.5 930.8,1405.4 932.0,1405.2 933.3,1404.5 934.5,1402.7 935.8,1402.0 937.0,1402.1 938.3,1402.4 939.5,1401.1 940.8,1400.0 942.0,1398.1 943.3,1395.2 944.5,1395.1 945.8,1393.2 947.0,1396.1 948.3,1390.1 949.5,1392.8 950.8,1396.9 952.0,1391.9 953.3,1390.9 954.5,1393.7 955.8,1396.6 957.0,1393.7 958.3,1393.8 959.5,1391.1 960.8,1388.1 962.0,1392.1 963.3,1384.4 964.5,1381.2 965.8,1379.4 967.0,1379.3 968.3,1378.1 969.5,1378.0 970.8,1376.5 972.0,1373.6 973.3,1377.0 974.5,1375.3 975.8,1374.6 977.0,1371.0 978.3,1370.4 979.5,1367.6 980.8,1366.2 982.0,1361.2 983.3,1361.2 984.5,1359.0 985.8,1355.0 987.0,1354.7 988.3,1353.7 989.5,1356.3 990.8,1349.8 992.0,1352.8 993.3,1349.3 994.5,1350.0 995.8,1350.6 997.0,1346.5 998.3,1346.6 999.5,1343.6 1000.8,1346.9 1002.0,1342.9 1003.3,1340.4 1004.5,1333.0 1005.8,1330.5 1007.0,1331.7 1008.3,1326.8 1009.5,1323.9 1010.8,1322.1 1012.0,1316.4 1013.3,1317.3 1014.5,1313.5 1015.8,1312.1 1017.0,1308.1 1018.3,1308.3 1019.5,1304.4 1020.8,1305.3 1022.0,1303.4 1023.3,1300.5 1024.5,1297.2 1025.8,1294.7 1027.0,1286.4 1028.3,1290.4 1029.5,1286.6 1030.8,1285.5 1032.0,1282.8 1033.3,1278.4 1034.5,1277.1 1035.8,1276.3 1037.0,1274.9 1038.3,1269.1 1039.5,1266.5 1040.8,1268.5 1042.0,1262.1 1043.3,1264.5 1044.5,1257.8 1045.8,1252.6 1047.0,1252.3 1048.3,1250.1 1049.5,1241.2 1050.8,1243.2 1052.0,1236.7 1053.3,1236.3 1054.5,1229.2 1055.8,1222.8 1057.0,1222.0 1058.3,1218.5 1059.5,1216.8 1060.8,1212.4 1062.0,1206.8 1063.3,1201.0 1064.5,1195.9 1065.8,1191.4 1067.0,1185.4 1068.3,1181.5 1069.5,1172.8 1070.8,1172.9 1072.0,1167.8 1073.3,1167.6 1074.5,1159.9 1075.8,1153.3 1077.0,1151.0 1078.3,1143.6 1079.5,1140.5 1080.8,1134.1 1082.0,1135.6 1083.3,1130.0 1084.5,1122.8 1085.8,1120.8 1087.0,1118.7 1088.3,1113.8 1089.5,1109.3 1090.8,1102.6 1092.0,1098.3 1093.3,1094.8 1094.5,1091.2 1095.8,1083.1 1097.0,1077.3 1098.3,1075.7 1099.5,1066.2 1100.8,1063.4 1102.0,1055.2 1103.3,1049.0 1104.5,1042.8 1105.8,1033.0 1107.0,1025.0 1108.3,1014.1 1109.5,1006.7 1110.8,1001.6 1112.0,995.7 1113.3,987.6 1114.5,980.6 1115.8,967.4 1117.0,956.9 1118.3,947.4 1119.5,934.6 1120.8,923.0 1122.0,909.6 1123.3,901.0 1124.5,884.8 1125.8,874.7 1127.0,858.1 1128.3,849.1 1129.5,831.7 1130.8,820.9 1132.0,801.7 1133.3,787.8 1134.5,773.9 1135.8,753.0 1137.0,736.8 1138.3,717.9 1139.5,696.5 1140.8,682.6 1142.0,664.0 1143.3,642.2 1144.5,626.0 1145.8,604.4 1147.0,585.1 1148.3,568.2 1149.5,548.5 1150.8,535.1 1152.0,509.9 1153.3,495.7 1154.5,478.3 1155.8,455.7 1157.0,438.8 1158.3,424.8 1159.5,404.0 1160.8,386.2 1162.0,367.0 1163.3,338.8 1164.5,317.8 1165.8,302.8 1167.0,299.8 1168.3,292.6 1169.5,290.9 1170.8,288.1 1172.0,283.5 1173.3,287.5 1174.5,285.8 1175.8,286.0 1177.0,284.2 1178.3,288.2 1179.5,294.0 1180.8,304.7 1182.0,323.7 1183.3,343.0 1184.5,355.5 1185.8,369.5 1187.0,384.1 1188.3,404.1 1189.5,418.9 1190.8,430.8 1192.0,452.3 1193.3,471.7 1194.5,491.9 1195.8,508.1 1197.0,526.5 1198.3,544.0 1199.5,564.8 1200.8,581.7 1202.0,600.4 1203.3,619.0 1204.5,639.9 1205.8,656.5 1207.0,673.1 1208.3,695.5 1209.5,710.9 1210.8,729.4 1212.0,744.8 1213.3,760.5 1214.5,773.7 1215.8,784.2 1217.0,798.2 1218.3,809.3 1219.5,827.1 1220.8,836.7 1222.0,849.4 1223.3,856.3 1224.5,862.1 1225.8,876.4 1227.0,881.6 1228.3,889.3 1229.5,897.1 1230.8,905.9 1232.0,913.0 1233.3,915.8 1234.5,926.1 1235.8,928.2 1237.0,932.4 1238.3,939.7 1239.5,941.0 1240.8,940.9 1242.0,939.8 1243.3,944.6 1244.5,946.4 1245.8,946.6 1247.0,946.0 1248.3,948.6 1249.5,949.7 1250.8,954.2 1252.0,956.6 1253.3,957.6 1254.5,954.5 1255.8,955.8 1257.0,955.8 1258.3,953.2 1259.5,953.1 1260.8,956.5 1262.0,952.4 1263.3,952.7 1264.5,949.0 1265.8,948.4 1267.0,944.1 1268.3,946.1 1269.5,947.3 1270.8,947.2 1272.0,942.3 1273.3,936.3 1274.5,928.0 1275.8,920.9 1277.0,916.2 1278.3,911.8 1279.5,903.9 1280.8,901.9 1282.0,893.1 1283.3,885.2 1284.5,878.9 1285.8,869.3 1287.0,860.8 1288.3,855.5 1289.5,842.3 1290.8,831.0 1292.0,819.3 1293.3,804.8 1294.5,786.0 1295.8,772.3 1297.0,752.6 1298.3,732.6 1299.5,712.7 1300.8,687.1 1302.0,664.4 1303.3,640.5 1304.5,615.9 1305.8,587.3 1307.0,560.0 1308.3,535.0 1309.5,509.7 1310.8,484.7 1312.0,461.5 1313.3,426.7 1314.5,384.4 1315.8,337.8 1317.0,297.3 1318.3,264.3 1319.5,239.3 1320.8,214.8 1322.0,202.9 1323.3,200.5 1324.5,201.1 1325.8,200.8 1327.0,207.8 1328.3,214.6 1329.5,241.1 1330.8,280.8 1332.0,331.2 1333.3,377.8 1334.5,419.1 1335.8,477.9 1337.0,538.0 1338.3,595.1 1339.5,646.4 1340.8,693.6 1342.0,740.4 1343.3,784.5 1344.5,834.2 1345.8,875.7 1347.0,923.4 1348.3,957.0 1349.5,993.0 1350.8,1023.0 1352.0,1053.4 1353.3,1078.2 1354.5,1105.9 1355.8,1125.3 1357.0,1146.5 1358.3,1162.3 1359.5,1178.6 1360.8,1195.9 1362.0,1204.3 1363.3,1213.6 1364.5,1226.7 1365.8,1232.3 1367.0,1241.3 1368.3,1251.5 1369.5,1256.5 1370.8,1267.7 1372.0,1273.2 1373.3,1284.8 1374.5,1291.9 1375.8,1296.0 1377.0,1303.9 1378.3,1310.4 1379.5,1319.6 1380.8,1328.1 1382.0,1329.5 1383.3,1338.3 1384.5,1338.0 1385.8,1341.9 1387.0,1343.4 1388.3,1353.6 1389.5,1353.6 1390.8,1357.6 1392.0,1359.4 1393.3,1365.9 1394.5,1363.9 1395.8,1371.4 1397.0,1379.1 1398.3,1378.0 1399.5,1381.4 1400.8,1384.8 1402.0,1384.2 1403.3,1387.4 1404.5,1390.3 1405.8,1389.9 1407.0,1391.1 1408.3,1391.0 1409.5,1393.9 1410.8,1395.5 1412.0,1400.3 1413.3,1401.1 1414.5,1401.3 1415.8,1398.9 1417.0,1405.7 1418.3,1406.9 1419.5,1404.9 1420.8,1403.6 1422.0,1405.7 1423.3,1410.2 1424.5,1408.0 1425.8,1410.7 1427.0,1413.3 1428.3,1416.2 1429.5,1414.9 1430.8,1415.9 1432.0,1416.5 1433.3,1421.9 1434.5,1422.6 1435.8,1422.3 1437.0,1421.5 1438.3,1424.0 1439.5,1427.7 1440.8,1426.2 1442.0,1429.9 1443.3,1429.8 1444.5,1430.5 1445.8,1431.9 1447.0,1432.4 1448.3,1430.6 1449.5,1431.9 1450.8,1436.8 1452.0,1430.6 1453.3,1431.8 1454.5,1434.6 1455.8,1432.6 1457.0,1431.8 1458.3,1431.4 1459.5,1435.3 1460.8,1436.7 1462.0,1438.1 1463.3,1436.6 1464.5,1439.3 1465.8,1436.9 1467.0,1440.2 1468.3,1439.8 1469.5,1442.1 1470.8,1443.8 1472.0,1445.0 1473.3,1441.9 1474.5,1446.0 1475.8,1442.7 1477.0,1441.1 1478.3,1442.0 1479.5,1439.2 1480.8,1441.3 1482.0,1441.3 1483.3,1440.2 1484.5,1441.8 1485.8,1440.8 1487.0,1441.8 1488.3,1439.4 1489.5,1441.8 1490.8,1440.0 1492.0,1440.6 1493.3,1441.5 1494.5,1442.8 1495.8,1440.8 1497.0,1442.4 1498.3,1446.2 1499.5,1449.0 1500.8,1449.7 1502.0,1451.1 1503.3,1451.7 1504.5,1450.0 1505.8,1448.9 1507.0,1446.9 1508.3,1447.0 1509.5,1447.9 1510.8,1449.4 1512.0,1449.4 1513.3,1448.9 1514.5,1448.3 1515.8,1449.4 1517.0,1448.5 1518.3,1448.9 1519.5,1449.4 1520.8,1448.6 1522.0,1448.5 1523.3,1452.1 1524.5,1453.1 1525.8,1452.9 1527.0,1453.3 1528.3,1458.6 1529.5,1453.6 1530.8,1454.8 1532.0,1455.8 1533.3,1453.6 1534.5,1456.2 1535.8,1459.5 1537.0,1458.3 1538.3,1457.8 1539.5,1457.5 1540.8,1456.4 1542.0,1457.7 1543.3,1455.5 1544.5,1454.8 1545.8,1455.7 1547.0,1457.5 1548.3,1457.2 1549.5,1458.7 1550.8,1454.6 1552.0,1460.3 1553.3,1461.6 1554.5,1458.4 1555.8,1453.9 1557.0,1451.5 1558.3,1452.5 1559.5,1449.9 1560.8,1453.3 1562.0,1451.9 1563.3,1455.6 1564.5,1457.4 1565.8,1452.3 1567.0,1457.0 1568.3,1455.8 1569.5,1455.3 1570.8,1457.6 1572.0,1459.2 1573.3,1462.1 1574.5,1457.9 1575.8,1462.4 1577.0,1464.0 1578.3,1461.5 1579.5,1461.3 1580.8,1460.3 1582.0,1458.2 1583.3,1461.2 1584.5,1461.0 1585.8,1461.7 1587.0,1465.0 1588.3,1461.6 1589.5,1460.9 1590.8,1462.7 1592.0,1457.3 1593.3,1457.3 1594.5,1458.2 1595.8,1457.2 1597.0,1459.3 1598.3,1457.6 1599.5,1461.4 1600.8,1461.2 1602.0,1459.6 1603.3,1457.0 1604.5,1458.0 1605.8,1457.6 1607.0,1453.8 1608.3,1456.1 1609.5,1456.9 1610.8,1456.6 1612.0,1459.8 1613.3,1460.1 1614.5,1457.3 1615.8,1459.6 1617.0,1458.4 1618.3,1461.2 1619.5,1458.9 1620.8,1462.3 1622.0,1461.5 1623.3,1462.7 1624.5,1460.8 1625.8,1458.4 1627.0,1464.0 1628.3,1460.4 1629.5,1463.0 1630.8,1461.2 1632.0,1461.5 1633.3,1463.6 1634.5,1461.1 1635.8,1463.3 1637.0,1458.6 1638.3,1463.0 1639.5,1461.2 1640.8,1461.6 1642.0,1462.3 1643.3,1463.6 1644.5,1466.8 1645.8,1461.4 1647.0,1465.3 1648.3,1464.2 1649.5,1467.7 1650.8,1465.1 1652.0,1466.9 1653.3,1465.7 1654.5,1467.6 1655.8,1467.7 1657.0,1464.2 1658.3,1463.7 1659.5,1459.9 1660.8,1461.9 1662.0,1462.2 1663.3,1459.4 1664.5,1462.2 1665.8,1456.6 1667.0,1456.9 1668.3,1457.7 1669.5,1459.2 1670.8,1460.0 1672.0,1459.8 1673.3,1459.9 1674.5,1461.7 1675.8,1460.4 1677.0,1460.0 1678.3,1460.9 1679.5,1467.4 1680.8,1459.6 1682.0,1463.0 1683.3,1465.0 1684.5,1462.2 1685.8,1458.7 1687.0,1459.0 1688.3,1459.4 1689.5,1458.8 1690.8,1454.1 1692.0,1456.2 1693.3,1454.9 1694.5,1456.1 1695.8,1456.6 1697.0,1453.5 1698.3,1451.3 1699.5,1454.1 1700.8,1455.7 1702.0,1452.6 1703.3,1450.5 1704.5,1453.2 1705.8,1446.5 1707.0,1450.0 1708.3,1447.9 1709.5,1449.7 1710.8,1450.6 1712.0,1453.8 1713.3,1450.1 1714.5,1451.4 1715.8,1449.8 1717.0,1453.2 1718.3,1450.9 1719.5,1451.4 1720.8,1447.5 1722.0,1447.7 1723.3,1449.4 1724.5,1447.0 1725.8,1448.4 1727.0,1448.4 1728.3,1446.8 1729.5,1444.4 1730.8,1448.3 1732.0,1446.3 1733.3,1447.1 1734.5,1441.2 1735.8,1441.4 1737.0,1440.6 1738.3,1443.4 1739.5,1447.7 1740.8,1447.7 1742.0,1446.8 1743.3,1446.5 1744.5,1446.4 1745.8,1443.0 1747.0,1443.0 1748.3,1441.8 1749.5,1437.6 1750.8,1441.2 1752.0,1444.7 1753.3,1441.8 1754.5,1441.8 1755.8,1440.3 1757.0,1440.0 1758.3,1442.8 1759.5,1440.7 1760.8,1439.6 1762.0,1435.8 1763.3,1439.7 1764.5,1436.3 1765.8,1435.8 1767.0,1439.7 1768.3,1439.1 1769.5,1433.9 1770.8,1437.9 1772.0,1436.1 1773.3,1432.6 1774.5,1434.0 1775.8,1428.8 1777.0,1428.6 1778.3,1427.5 1779.5,1427.3 1780.8,1430.2 1782.0,1425.9 1783.3,1426.2 1784.5,1426.9 1785.8,1429.5 1787.0,1429.1 1788.3,1431.6 1789.5,1428.8 1790.8,1427.4 1792.0,1428.4 1793.3,1429.0 1794.5,1426.8 1795.8,1428.4 1797.0,1430.4 1798.3,1425.4 1799.5,1425.6 1800.8,1426.8 1802.0,1422.2 1803.3,1420.7 1804.5,1419.4 1805.8,1421.2 1807.0,1420.8 1808.3,1419.0 1809.5,1418.6 1810.8,1419.9 1812.0,1418.1 1813.3,1413.2 1814.5,1414.9 1815.8,1414.7 1817.0,1415.7 1818.3,1414.3 1819.5,1413.9 1820.8,1414.5 1822.0,1412.2 1823.3,1414.9 1824.5,1413.0 1825.8,1413.7 1827.0,1410.1 1828.3,1410.4 1829.5,1409.1 1830.8,1408.9 1832.0,1411.9 1833.3,1409.8 1834.5,1411.2 1835.8,1408.1 1837.0,1409.9 1838.3,1406.5 1839.5,1408.2 1840.8,1407.3 1842.0,1407.8 1843.3,1405.5 1844.5,1403.3 1845.8,1403.7 1847.0,1400.8 1848.3,1399.3 1849.5,1397.7 1850.8,1394.7 1852.0,1393.1 1853.3,1393.6 1854.5,1392.2 1855.8,1393.8 1857.0,1395.0 1858.3,1394.1 1859.5,1391.1 1860.8,1388.5 1862.0,1389.5 1863.3,1388.6 1864.5,1390.2 1865.8,1387.4 1867.0,1387.4 1868.3,1388.5 1869.5,1385.5 1870.8,1385.1 1872.0,1387.5 1873.3,1386.5 1874.5,1384.6 1875.8,1383.7 1877.0,1381.1 1878.3,1383.4 1879.5,1382.0 1880.8,1381.4 1882.0,1379.0 1883.3,1378.3 1884.5,1376.5 1885.8,1376.1 1887.0,1377.2 1888.3,1374.7 1889.5,1370.7 1890.8,1371.4 1892.0,1369.6 1893.3,1370.0 1894.5,1370.9 1895.8,1368.7 1897.0,1364.9 1898.3,1364.1 1899.5,1360.2 1900.8,1357.1 1902.0,1355.7 1903.3,1355.7 1904.5,1359.0 1905.8,1353.2 1907.0,1356.4 1908.3,1354.5 1909.5,1350.0 1910.8,1349.4 1912.0,1348.3 1913.3,1349.3 1914.5,1350.4 1915.8,1348.8 1917.0,1349.7 1918.3,1348.8 1919.5,1346.1 1920.8,1345.2 1922.0,1343.9 1923.3,1344.0 1924.5,1340.6 1925.8,1342.1 1927.0,1340.3 1928.3,1336.7 1929.5,1340.3 1930.8,1333.2 1932.0,1332.0 1933.3,1332.9 1934.5,1327.8 1935.8,1328.6 1937.0,1326.2 1938.3,1326.0 1939.5,1326.3 1940.8,1325.8 1942.0,1325.8 1943.3,1323.9 1944.5,1323.5 1945.8,1321.7 1947.0,1319.6 1948.3,1322.4 1949.5,1319.6 1950.8,1319.3 1952.0,1322.7 1953.3,1320.8 1954.5,1319.2 1955.8,1319.8 1957.0,1319.9 1958.3,1315.8 1959.5,1317.7 1960.8,1315.6 1962.0,1318.0 1963.3,1317.3 1964.5,1322.0 1965.8,1321.6 1967.0,1320.0 1968.3,1322.0 1969.5,1320.1 1970.8,1322.2 1972.0,1322.9 1973.3,1322.3 1974.5,1318.3 1975.8,1320.9 1977.0,1322.3 1978.3,1322.2 1979.5,1324.4 1980.8,1321.0 1982.0,1325.2 1983.3,1324.1 1984.5,1326.1 1985.8,1326.3 1987.0,1326.0 1988.3,1322.6 1989.5,1322.7 1990.8,1319.1 1992.0,1317.8 1993.3,1320.7 1994.5,1319.6 1995.8,1317.5 1997.0,1319.7 1998.3,1322.0 1999.5,1325.2 2000.8,1324.4 2002.0,1323.4 2003.3,1318.1 2004.5,1320.2 2005.8,1320.5 2007.0,1320.1 2008.3,1321.1 2009.5,1321.9 2010.8,1327.8 2012.0,1329.4 2013.3,1327.9 2014.5,1326.9 2015.8,1332.7 2017.0,1328.5 2018.3,1331.8 2019.5,1333.1 2020.8,1327.7 2022.0,1328.6 2023.3,1325.8 2024.5,1325.3 2025.8,1323.1 2027.0,1324.5 2028.3,1321.0 2029.5,1319.1 2030.8,1320.7 2032.0,1318.2 2033.3,1318.2 2034.5,1323.0 2035.8,1317.7 2037.0,1318.2 2038.3,1318.9 2039.5,1316.7 2040.8,1314.7 2042.0,1320.3 2043.3,1317.2 2044.5,1317.4 2045.8,1316.3 2047.0,1312.8 2048.3,1309.9 2049.5,1309.7 2050.8,1312.2 2052.0,1308.4 2053.3,1307.9 2054.5,1303.7 2055.8,1306.3 2057.0,1304.4 2058.3,1308.0 2059.5,1306.2 2060.8,1306.5 2062.0,1306.2 2063.3,1305.3 2064.5,1303.6 2065.8,1306.9 2067.0,1302.7 2068.3,1302.2 2069.5,1302.9 2070.8,1301.6 2072.0,1302.7 2073.3,1302.8 2074.5,1299.7 2075.8,1297.6 2077.0,1295.3 2078.3,1295.2 2079.5,1288.9 2080.8,1291.3 2082.0,1287.8 2083.3,1286.5 2084.5,1288.4 2085.8,1287.8 2087.0,1289.6 2088.3,1290.6 2089.5,1284.5 2090.8,1288.2 2092.0,1291.5 2093.3,1289.6 2094.5,1290.2 2095.8,1286.9 2097.0,1283.0 2098.3,1282.2 2099.5,1284.5 2100.8,1284.4 2102.0,1281.2 2103.3,1282.1 2104.5,1283.4 2105.8,1280.3 2107.0,1282.9 2108.3,1286.8 2109.5,1288.8 2110.8,1286.3 2112.0,1291.2 2113.3,1288.2 2114.5,1288.3 2115.8,1286.0 2117.0,1291.9 2118.3,1290.2 2119.5,1296.1 2120.8,1294.2 2122.0,1295.9 2123.3,1294.3 2124.5,1302.0 2125.8,1300.5 2127.0,1302.8 2128.3,1301.4 2129.5,1309.0 2130.8,1311.2 2132.0,1310.1 2133.3,1312.5 2134.5,1313.6 2135.8,1315.1 2137.0,1314.0 2138.3,1317.6 2139.5,1315.7 2140.8,1317.5 2142.0,1320.7 2143.3,1320.1 2144.5,1326.2 2145.8,1332.5 2147.0,1334.2 2148.3,1334.9 2149.5,1338.5 2150.8,1335.0 2152.0,1338.7 2153.3,1341.1 2154.5,1342.9 2155.8,1342.5 2157.0,1348.0 2158.3,1352.2 2159.5,1350.6 2160.8,1354.9 2162.0,1352.6 2163.3,1353.3 2164.5,1358.8 2165.8,1358.3 2167.0,1358.6 2168.3,1356.9 2169.5,1357.4 2170.8,1360.9 2172.0,1365.0 2173.3,1364.5 2174.5,1365.1 2175.8,1373.0 2177.0,1374.0 2178.3,1376.1 2179.5,1376.8 2180.8,1381.7 2182.0,1378.5 2183.3,1379.8 2184.5,1375.8 2185.8,1377.9 2187.0,1377.4 2188.3,1378.1 2189.5,1378.6 2190.8,1376.9 2192.0,1381.7 2193.3,1377.5 2194.5,1379.1 2195.8,1380.5 2197.0,1377.6 2198.3,1380.2 2199.5,1379.5 2200.8,1377.2 2202.0,1380.7 2203.3,1377.7 2204.5,1379.5 2205.8,1379.6 2207.0,1380.9 2208.3,1385.0 2209.5,1387.1 2210.8,1387.0 2212.0,1388.7 2213.3,1382.5 2214.5,1384.0 2215.8,1382.4 2217.0,1387.8 2218.3,1384.4 2219.5,1385.6 2220.8,1387.0 2222.0,1392.9 2223.3,1391.7 2224.5,1392.3 2225.8,1387.7 2227.0,1392.8 2228.3,1390.9 2229.5,1390.9 2230.8,1392.0 2232.0,1389.6 2233.3,1389.7 2234.5,1391.2 2235.8,1390.9 2237.0,1390.3 2238.3,1391.8 2239.5,1392.0 2240.8,1395.2 2242.0,1396.1 2243.3,1394.9 2244.5,1399.3 2245.8,1394.8 2247.0,1398.7 2248.3,1403.7 2249.5,1400.9 2250.8,1398.8 2252.0,1403.0 2253.3,1399.7 2254.5,1394.5 2255.8,1395.8 2257.0,1390.7 2258.3,1389.1 2259.5,1390.7 2260.8,1389.7 2262.0,1388.5 2263.3,1389.8 2264.5,1388.8 2265.8,1391.4 2267.0,1393.1 2268.3,1396.9 2269.5,1397.6 2270.8,1398.5 2272.0,1400.4 2273.3,1403.9 2274.5,1408.7 2275.8,1409.4 2277.0,1408.9 2278.3,1414.0 2279.5,1412.4 2280.8,1417.7 2282.0,1416.1 2283.3,1418.6 2284.5,1418.8 2285.8,1417.9 2287.0,1420.1 2288.3,1419.1 2289.5,1422.3 2290.8,1425.9 2292.0,1432.9 2293.3,1428.9 2294.5,1430.0 2295.8,1430.5 2297.0,1437.1 2298.3,1435.2 2299.5,1438.7 2300.8,1440.9 2302.0,1437.7 2303.3,1442.0 2304.5,1440.9 2305.8,1438.0 2307.0,1438.2 2308.3,1437.1 2309.5,1437.1 2310.8,1441.5 2312.0,1444.6 2313.3,1447.5 2314.5,1449.9 2315.8,1449.4 2317.0,1451.4 2318.3,1448.1 2319.5,1450.4 2320.8,1452.7 2322.0,1452.0 2323.3,1448.5 2324.5,1448.5 2325.8,1451.6 2327.0,1453.7 2328.3,1450.6 2329.5,1455.3 2330.8,1458.5 2332.0,1461.1 2333.3,1458.1 2334.5,1460.6 2335.8,1458.3 2337.0,1462.2 2338.3,1458.1 2339.5,1456.9 2340.8,1456.6 2342.0,1459.3 2343.3,1458.8 2344.5,1455.8 2345.8,1458.1 2347.0,1455.2 2348.3,1456.1 2349.5,1455.1 2350.8,1454.9 2352.0,1455.8 2353.3,1455.0 2354.5,1457.4 2355.8,1457.5 2357.0,1455.6 2358.3,1454.3 2359.5,1458.2 2360.8,1454.0 2362.0,1455.1 2363.3,1460.8 2364.5,1461.6 2365.8,1463.4 2367.0,1462.6 2368.3,1462.1 2369.5,1464.6 2370.8,1467.6 2372.0,1466.1 2373.3,1466.7 2374.5,1465.6 2375.8,1465.7 2377.0,1468.8 2378.3,1467.8 2379.5,1464.9 2380.8,1465.0 2382.0,1465.9 2383.3,1468.1 2384.5,1465.3 2385.8,1467.3 2387.0,1463.9 2388.3,1465.5 2389.5,1468.6 2390.8,1469.9 2392.0,1466.9 2393.3,1468.2 2394.5,1471.3 2395.8,1469.3 2397.0,1468.9 2398.3,1470.5 2399.5,1469.6 2400.8,1471.0 2402.0,1470.5 2403.3,1468.2 2404.5,1469.1 2405.8,1469.1 2407.0,1466.6 2408.3,1467.1 2409.5,1470.5 2410.8,1466.0 2412.0,1471.0 2413.3,1470.6 2414.5,1471.3 2415.8,1474.1 2417.0,1475.4 2418.3,1477.5 2419.5,1474.8 2420.8,1474.6 2422.0,1473.6 2423.3,1476.3 2424.5,1473.7 2425.8,1469.7 2427.0,1470.3 2428.3,1469.4 2429.5,1470.7 2430.8,1471.3 2432.0,1475.5 2433.3,1468.8 2434.5,1474.2 2435.8,1473.4 2439.4,1471.2"/>
<polyline fill="none" stroke="#00ff00" stroke-width="12.3" stroke-linejoin="round" stroke-linecap="butt" points="414.1,1401.6 414.4,1442.3 415.9,1477.5 417.4,1441.8 418.6,1399.2 420.0,1369.5 421.3,1398.2 422.9,1431.0 424.5,1397.6 426.1,1370.9 427.9,1398.5 429.7,1427.0 431.7,1402.8 433.8,1388.2 435.8,1405.8 437.8,1419.5 440.1,1402.1 442.1,1387.4 444.4,1402.5 446.7,1413.5 449.2,1397.1 451.6,1386.0 454.2,1395.0 457.1,1402.3 459.9,1392.5 463.9,1392.1 469.5,1398.3 470.8,1400.1 472.0,1405.0 473.3,1410.6 474.5,1406.9 475.8,1409.1 477.0,1412.5 478.3,1413.8 479.5,1413.0 480.8,1414.4 482.0,1412.3 483.3,1414.0 484.5,1415.6 485.8,1416.3 487.0,1413.4 488.3,1412.8 489.5,1413.4 490.8,1413.9 492.0,1412.7 493.3,1410.8 494.5,1412.7 495.8,1415.1 497.0,1415.0 498.3,1416.6 499.5,1421.2 500.8,1422.5 502.0,1424.1 503.3,1423.3 504.5,1422.7 505.8,1423.4 507.0,1423.2 508.3,1423.9 509.5,1424.9 510.8,1425.3 512.0,1427.7 513.3,1424.8 514.5,1426.8 515.8,1426.5 517.0,1429.8 518.3,1428.5 519.5,1428.1 520.8,1430.0 522.0,1429.1 523.3,1428.5 524.5,1431.5 525.8,1430.7 527.0,1432.5 528.3,1432.0 529.5,1431.8 530.8,1431.4 532.0,1430.4 533.3,1433.6 534.5,1433.4 535.8,1434.9 537.0,1434.4 538.3,1433.7 539.5,1433.2 540.8,1435.3 542.0,1435.8 543.3,1433.5 544.5,1434.4 545.8,1435.5 547.0,1432.7 548.3,1433.8 549.5,1433.6 550.8,1437.6 552.0,1437.2 553.3,1436.8 554.5,1435.5 555.8,1437.8 557.0,1439.7 558.3,1438.1 559.5,1437.9 560.8,1439.3 562.0,1436.4 563.3,1437.9 564.5,1438.7 565.8,1437.2 567.0,1437.7 568.3,1439.8 569.5,1439.7 570.8,1439.8 572.0,1440.5 573.3,1440.4 574.5,1438.7 575.8,1438.8 577.0,1440.0 578.3,1440.6 579.5,1440.5 580.8,1437.2 582.0,1439.7 583.3,1439.3 584.5,1438.5 585.8,1439.7 587.0,1440.7 588.3,1442.6 589.5,1439.2 590.8,1441.5 592.0,1440.4 593.3,1440.0 594.5,1441.5 595.8,1440.8 597.0,1438.2 598.3,1439.3 599.5,1440.0 600.8,1437.6 602.0,1440.2 603.3,1438.4 604.5,1438.1 605.8,1437.7 607.0,1439.1 608.3,1436.0 609.5,1434.9 610.8,1437.2 612.0,1433.7 613.3,1433.2 614.5,1431.5 615.8,1434.4 617.0,1433.0 618.3,1433.2 619.5,1432.8 620.8,1432.6 622.0,1432.0 623.3,1432.4 624.5,1434.3 625.8,1434.2 627.0,1436.3 628.3,1433.0 629.5,1433.3 630.8,1432.8 632.0,1436.3 633.3,1433.1 634.5,1435.8 635.8,1436.6 637.0,1434.4 638.3,1435.6 639.5,1431.9 640.8,1434.3 642.0,1432.6 643.3,1435.0 644.5,1434.5 645.8,1433.2 647.0,1435.2 648.3,1434.1 649.5,1432.7 650.8,1432.5 652.0,1430.8 653.3,1431.8 654.5,1434.1 655.8,1429.4 657.0,1430.0 658.3,1428.0 659.5,1429.2 660.8,1428.2 662.0,1426.8 663.3,1424.1 664.5,1425.2 665.8,1427.0 667.0,1424.7 668.3,1425.6 669.5,1423.8 670.8,1421.5 672.0,1424.0 673.3,1423.2 674.5,1421.5 675.8,1421.4 677.0,1422.1 678.3,1420.9 679.5,1422.2 680.8,1421.9 682.0,1419.7 683.3,1423.6 684.5,1423.8 685.8,1424.2 687.0,1426.5 688.3,1425.6 689.5,1427.1 690.8,1427.9 692.0,1426.6 693.3,1424.4 694.5,1425.2 695.8,1426.9 697.0,1424.6 698.3,1423.2 699.5,1423.3 700.8,1422.5 702.0,1419.9 703.3,1418.1 704.5,1413.4 705.8,1411.2 707.0,1408.2 708.3,1405.6 709.5,1400.0 710.8,1399.7 712.0,1394.7 713.3,1393.1 714.5,1387.5 715.8,1383.2 717.0,1380.1 718.3,1376.9 719.5,1377.7 720.8,1375.3 722.0,1375.9 723.3,1374.1 724.5,1375.9 725.8,1379.3 727.0,1383.2 728.3,1382.7 729.5,1386.8 730.8,1387.6 732.0,1381.7 733.3,1382.5 734.5,1380.1 735.8,1380.1 737.0,1378.7 738.3,1378.8 739.5,1379.6 740.8,1379.1 742.0,1377.7 743.3,1376.9 744.5,1376.7 745.8,1376.6 747.0,1377.1 748.3,1376.0 749.5,1376.1 750.8,1372.8 752.0,1374.9 753.3,1375.7 754.5,1373.5 755.8,1371.7 757.0,1375.9 758.3,1374.3 759.5,1371.4 760.8,1375.9 762.0,1377.8 763.3,1378.4 764.5,1380.7 765.8,1381.5 767.0,1382.8 768.3,1382.2 769.5,1385.4 770.8,1389.1 772.0,1391.6 773.3,1391.2 774.5,1394.1 775.8,1398.4 777.0,1398.4 778.3,1401.6 779.5,1407.0 780.8,1410.6 782.0,1412.1 783.3,1411.9 784.5,1417.1 785.8,1416.9 787.0,1420.9 788.3,1420.9 789.5,1422.3 790.8,1423.7 792.0,1423.1 793.3,1425.9 794.5,1427.4 795.8,1427.4 797.0,1429.8 798.3,1428.4 799.5,1431.8 800.8,1432.3 802.0,1432.1 803.3,1434.9 804.5,1435.7 805.8,1436.8 807.0,1438.5 808.3,1440.6 809.5,1439.5 810.8,1440.8 812.0,1439.2 813.3,1441.8 814.5,1443.8 815.8,1444.2 817.0,1444.9 818.3,1444.6 819.5,1444.9 820.8,1446.9 822.0,1445.7 823.3,1446.3 824.5,1449.4 825.8,1446.8 827.0,1450.3 828.3,1445.6 829.5,1447.8 830.8,1445.3 832.0,1446.8 833.3,1444.9 834.5,1446.3 835.8,1446.2 837.0,1446.2 838.3,1448.0 839.5,1449.7 840.8,1446.9 842.0,1448.7 843.3,1447.3 844.5,1446.9 845.8,1449.5 847.0,1443.0 848.3,1444.3 849.5,1442.1 850.8,1443.7 852.0,1443.6 853.3,1448.9 854.5,1444.3 855.8,1446.5 857.0,1446.6 858.3,1445.4 859.5,1448.0 860.8,1450.9 862.0,1449.8 863.3,1450.4 864.5,1451.1 865.8,1448.6 867.0,1450.0 868.3,1452.2 869.5,1453.1 870.8,1451.5 872.0,1452.1 873.3,1451.9 874.5,1451.2 875.8,1451.8 877.0,1450.4 878.3,1449.9 879.5,1447.3 880.8,1447.5 882.0,1449.1 883.3,1446.1 884.5,1448.3 885.8,1446.7 887.0,1446.4 888.3,1448.4 889.5,1446.7 890.8,1446.5 892.0,1446.8 893.3,1447.9 894.5,1451.8 895.8,1445.3 897.0,1448.1 898.3,1447.8 899.5,1449.3 900.8,1447.4 902.0,1444.5 903.3,1449.4 904.5,1445.8 905.8,1446.7 907.0,1444.6 908.3,1444.6 909.5,1445.0 910.8,1446.4 912.0,1445.9 913.3,1443.6 914.5,1444.9 915.8,1443.6 917.0,1443.9 918.3,1443.4 919.5,1443.4 920.8,1441.0 922.0,1440.9 923.3,1440.9 924.5,1440.5 925.8,1439.2 927.0,1442.8 928.3,1439.9 929.5,1441.3 930.8,1440.0 932.0,1440.7 933.3,1435.2 934.5,1440.2 935.8,1436.5 937.0,1434.4 938.3,1435.6 939.5,1437.9 940.8,1435.0 942.0,1431.9 943.3,1432.3 944.5,1434.2 945.8,1430.1 947.0,1431.3 948.3,1430.6 949.5,1433.2 950.8,1429.2 952.0,1430.7 953.3,1427.5 954.5,1426.7 955.8,1428.4 957.0,1426.8 958.3,1422.1 959.5,1423.5 960.8,1421.6 962.0,1418.1 963.3,1417.8 964.5,1417.0 965.8,1415.5 967.0,1415.0 968.3,1414.6 969.5,1414.9 970.8,1413.2 972.0,1414.8 973.3,1412.6 974.5,1414.2 975.8,1413.2 977.0,1410.9 978.3,1412.2 979.5,1412.2 980.8,1409.8 982.0,1404.5 983.3,1406.4 984.5,1403.4 985.8,1401.5 987.0,1399.4 988.3,1399.2 989.5,1400.3 990.8,1398.3 992.0,1396.0 993.3,1394.3 994.5,1393.4 995.8,1393.8 997.0,1394.9 998.3,1390.2 999.5,1390.7 1000.8,1389.1 1002.0,1387.6 1003.3,1388.2 1004.5,1387.4 1005.8,1383.6 1007.0,1382.5 1008.3,1383.7 1009.5,1380.6 1010.8,1379.0 1012.0,1375.9 1013.3,1374.2 1014.5,1373.5 1015.8,1370.3 1017.0,1367.8 1018.3,1367.7 1019.5,1367.3 1020.8,1363.1 1022.0,1364.2 1023.3,1361.9 1024.5,1357.9 1025.8,1357.3 1027.0,1355.6 1028.3,1354.9 1029.5,1353.3 1030.8,1348.8 1032.0,1346.9 1033.3,1348.3 1034.5,1345.3 1035.8,1343.7 1037.0,1341.6 1038.3,1341.4 1039.5,1335.9 1040.8,1337.2 1042.0,1332.9 1043.3,1333.3 1044.5,1332.5 1045.8,1327.0 1047.0,1327.0 1048.3,1323.0 1049.5,1319.2 1050.8,1315.6 1052.0,1309.9 1053.3,1306.2 1054.5,1304.7 1055.8,1301.6 1057.0,1296.5 1058.3,1292.3 1059.5,1294.5 1060.8,1290.0 1062.0,1285.9 1063.3,1280.7 1064.5,1277.7 1065.8,1275.1 1067.0,1269.7 1068.3,1269.6 1069.5,1264.2 1070.8,1261.5 1072.0,1256.6 1073.3,1253.6 1074.5,1250.5 1075.8,1248.9 1077.0,1245.1 1078.3,1242.2 1079.5,1240.4 1080.8,1238.2 1082.0,1238.3 1083.3,1234.4 1084.5,1231.5 1085.8,1230.5 1087.0,1229.7 1088.3,1224.0 1089.5,1222.0 1090.8,1218.9 1092.0,1217.6 1093.3,1214.9 1094.5,1210.5 1095.8,1207.7 1097.0,1205.0 1098.3,1200.7 1099.5,1195.7 1100.8,1190.8 1102.0,1184.4 1103.3,1179.6 1104.5,1176.5 1105.8,1169.1 1107.0,1166.4 1108.3,1159.9 1109.5,1157.6 1110.8,1152.4 1112.0,1146.0 1113.3,1141.9 1114.5,1133.0 1115.8,1125.7 1117.0,1117.7 1118.3,1108.7 1119.5,1103.1 1120.8,1092.0 1122.0,1084.3 1123.3,1073.6 1124.5,1065.9 1125.8,1057.2 1127.0,1048.1 1128.3,1038.2 1129.5,1029.2 1130.8,1021.0 1132.0,1008.5 1133.3,998.1 1134.5,987.4 1135.8,980.9 1137.0,969.3 1138.3,957.7 1139.5,947.7 1140.8,935.3 1142.0,925.0 1143.3,913.9 1144.5,901.7 1145.8,888.1 1147.0,875.6 1148.3,864.7 1149.5,851.7 1150.8,836.0 1152.0,826.5 1153.3,815.8 1154.5,801.2 1155.8,790.5 1157.0,776.4 1158.3,767.6 1159.5,752.7 1160.8,740.2 1162.0,730.1 1163.3,723.6 1164.5,710.6 1165.8,702.5 1167.0,700.1 1168.3,696.1 1169.5,695.0 1170.8,688.9 1172.0,686.6 1173.3,686.9 1174.5,687.1 1175.8,687.1 1177.0,689.2 1178.3,687.5 1179.5,690.8 1180.8,696.5 1182.0,704.2 1183.3,709.3 1184.5,713.0 1185.8,717.6 1187.0,727.1 1188.3,736.2 1189.5,750.0 1190.8,758.1 1192.0,771.9 1193.3,779.5 1194.5,792.1 1195.8,803.9 1197.0,816.3 1198.3,827.9 1199.5,840.3 1200.8,852.6 1202.0,863.4 1203.3,876.1 1204.5,886.1 1205.8,897.1 1207.0,909.7 1208.3,918.5 1209.5,928.2 1210.8,937.6 1212.0,947.1 1213.3,957.2 1214.5,964.8 1215.8,977.1 1217.0,987.2 1218.3,996.1 1219.5,1002.8 1220.8,1009.8 1222.0,1019.3 1223.3,1027.7 1224.5,1036.0 1225.8,1041.9 1227.0,1048.6 1228.3,1057.3 1229.5,1059.8 1230.8,1066.9 1232.0,1071.2 1233.3,1072.5 1234.5,1078.9 1235.8,1082.0 1237.0,1085.0 1238.3,1086.7 1239.5,1089.3 1240.8,1093.7 1242.0,1093.8 1243.3,1095.6 1244.5,1094.8 1245.8,1096.6 1247.0,1097.3 1248.3,1096.0 1249.5,1096.1 1250.8,1099.2 1252.0,1099.0 1253.3,1097.9 1254.5,1099.3 1255.8,1100.5 1257.0,1102.0 1258.3,1098.1 1259.5,1099.6 1260.8,1100.7 1262.0,1096.8 1263.3,1097.2 1264.5,1090.4 1265.8,1094.6 1267.0,1091.7 1268.3,1088.3 1269.5,1090.8 1270.8,1089.9 1272.0,1088.7 1273.3,1086.8 1274.5,1082.6 1275.8,1078.1 1277.0,1074.1 1278.3,1069.5 1279.5,1064.6 1280.8,1057.7 1282.0,1052.4 1283.3,1047.0 1284.5,1039.4 1285.8,1035.0 1287.0,1027.7 1288.3,1016.3 1289.5,1010.2 1290.8,1002.2 1292.0,994.8 1293.3,988.5 1294.5,976.7 1295.8,965.8 1297.0,955.1 1298.3,943.8 1299.5,928.5 1300.8,914.1 1302.0,900.7 1303.3,884.2 1304.5,867.6 1305.8,850.8 1307.0,830.4 1308.3,814.5 1309.5,796.2 1310.8,781.8 1312.0,764.4 1313.3,742.2 1314.5,723.8 1315.8,700.0 1317.0,683.8 1318.3,664.5 1319.5,646.4 1320.8,629.8 1322.0,613.8 1323.3,603.5 1324.5,601.3 1325.8,609.4 1327.0,614.8 1328.3,627.9 1329.5,648.0 1330.8,673.8 1332.0,701.0 1333.3,733.9 1334.5,777.0 1335.8,813.6 1337.0,856.5 1338.3,905.3 1339.5,939.2 1340.8,975.3 1342.0,1007.8 1343.3,1038.0 1344.5,1067.1 1345.8,1092.5 1347.0,1115.7 1348.3,1139.3 1349.5,1159.7 1350.8,1176.8 1352.0,1192.8 1353.3,1206.2 1354.5,1223.1 1355.8,1235.3 1357.0,1244.4 1358.3,1256.6 1359.5,1266.9 1360.8,1274.9 1362.0,1285.1 1363.3,1293.9 1364.5,1299.7 1365.8,1309.5 1367.0,1318.5 1368.3,1326.7 1369.5,1334.6 1370.8,1337.0 1372.0,1346.1 1373.3,1353.6 1374.5,1360.7 1375.8,1367.3 1377.0,1369.3 1378.3,1374.9 1379.5,1378.2 1380.8,1384.7 1382.0,1385.6 1383.3,1392.7 1384.5,1395.8 1385.8,1398.3 1387.0,1397.7 1388.3,1402.4 1389.5,1407.1 1390.8,1407.1 1392.0,1411.8 1393.3,1415.2 1394.5,1419.8 1395.8,1422.0 1397.0,1424.9 1398.3,1426.7 1399.5,1429.8 1400.8,1432.1 1402.0,1435.5 1403.3,1436.2 1404.5,1439.3 1405.8,1436.9 1407.0,1442.1 1408.3,1441.8 1409.5,1445.1 1410.8,1445.5 1412.0,1448.3 1413.3,1450.8 1414.5,1449.5 1415.8,1451.5 1417.0,1452.1 1418.3,1453.5 1419.5,1452.1 1420.8,1455.3 1422.0,1456.8 1423.3,1457.8 1424.5,1460.2 1425.8,1459.8 1427.0,1464.8 1428.3,1464.1 1429.5,1466.1 1430.8,1462.3 1432.0,1461.7 1433.3,1463.7 1434.5,1461.2 1435.8,1463.8 1437.0,1462.6 1438.3,1462.7 1439.5,1462.5 1440.8,1462.2 1442.0,1465.2 1443.3,1464.6 1444.5,1463.5 1445.8,1468.4 1447.0,1466.8 1448.3,1469.7 1449.5,1468.0 1450.8,1468.3 1452.0,1470.9 1453.3,1468.3 1454.5,1468.4 1455.8,1468.9 1457.0,1469.6 1458.3,1472.3 1459.5,1468.9 1460.8,1468.8 1462.0,1471.3 1463.3,1468.3 1464.5,1469.8 1465.8,1471.7 1467.0,1470.0 1468.3,1469.4 1469.5,1469.2 1470.8,1469.2 1472.0,1470.0 1473.3,1471.4 1474.5,1473.4 1475.8,1473.4 1477.0,1471.6 1478.3,1471.7 1479.5,1474.1 1480.8,1471.3 1482.0,1473.7 1483.3,1474.2 1484.5,1473.3 1485.8,1473.4 1487.0,1474.8 1488.3,1471.5 1489.5,1471.9 1490.8,1472.0 1492.0,1472.9 1493.3,1471.1 1494.5,1474.8 1495.8,1473.5 1497.0,1474.2 1498.3,1474.6 1499.5,1474.8 1500.8,1475.2 1502.0,1479.0 1503.3,1478.5 1504.5,1478.5 1505.8,1480.0 1507.0,1477.6 1508.3,1479.4 1509.5,1478.8 1510.8,1478.0 1512.0,1480.9 1513.3,1478.6 1514.5,1482.3 1515.8,1480.8 1517.0,1482.8 1518.3,1483.9 1519.5,1482.5 1520.8,1480.8 1522.0,1481.6 1523.3,1481.3 1524.5,1480.6 1525.8,1481.0 1527.0,1482.8 1528.3,1483.3 1529.5,1479.7 1530.8,1481.3 1532.0,1481.3 1533.3,1480.3 1534.5,1478.8 1535.8,1481.9 1537.0,1479.1 1538.3,1481.8 1539.5,1483.1 1540.8,1478.2 1542.0,1481.4 1543.3,1481.6 1544.5,1481.6 1545.8,1480.3 1547.0,1481.0 1548.3,1479.5 1549.5,1481.6 1550.8,1482.5 1552.0,1481.3 1553.3,1481.4 1554.5,1482.3 1555.8,1483.1 1557.0,1483.5 1558.3,1483.7 1559.5,1484.5 1560.8,1483.2 1562.0,1481.6 1563.3,1486.3 1564.5,1487.4 1565.8,1483.4 1567.0,1484.3 1568.3,1485.3 1569.5,1485.8 1570.8,1485.0 1572.0,1485.3 1573.3,1483.0 1574.5,1483.3 1575.8,1483.1 1577.0,1481.8 1578.3,1484.0 1579.5,1483.3 1580.8,1483.8 1582.0,1481.9 1583.3,1484.1 1584.5,1481.7 1585.8,1484.3 1587.0,1480.8 1588.3,1483.3 1589.5,1486.0 1590.8,1484.7 1592.0,1485.6 1593.3,1483.0 1594.5,1486.7 1595.8,1484.8 1597.0,1483.5 1598.3,1484.2 1599.5,1484.7 1600.8,1487.0 1602.0,1486.1 1603.3,1484.2 1604.5,1485.8 1605.8,1487.8 1607.0,1486.7 1608.3,1485.2 1609.5,1486.3 1610.8,1485.3 1612.0,1485.7 1613.3,1482.6 1614.5,1483.3 1615.8,1485.4 1617.0,1484.3 1618.3,1485.3 1619.5,1487.8 1620.8,1485.2 1622.0,1486.4 1623.3,1485.8 1624.5,1486.3 1625.8,1487.6 1627.0,1486.4 1628.3,1485.8 1629.5,1490.5 1630.8,1488.2 1632.0,1489.3 1633.3,1487.6 1634.5,1487.4 1635.8,1487.8 1637.0,1487.5 1638.3,1484.3 1639.5,1486.7 1640.8,1483.1 1642.0,1484.3 1643.3,1487.6 1644.5,1484.9 1645.8,1488.2 1647.0,1486.9 1648.3,1489.5 1649.5,1489.8 1650.8,1490.9 1652.0,1489.5 1653.3,1489.7 1654.5,1491.4 1655.8,1488.7 1657.0,1489.3 1658.3,1490.6 1659.5,1488.1 1660.8,1486.9 1662.0,1485.7 1663.3,1486.8 1664.5,1485.8 1665.8,1486.4 1667.0,1485.9 1668.3,1488.6 1669.5,1485.7 1670.8,1484.0 1672.0,1487.2 1673.3,1487.5 1674.5,1488.1 1675.8,1485.9 1677.0,1489.4 1678.3,1487.4 1679.5,1486.7 1680.8,1484.1 1682.0,1486.5 1683.3,1485.6 1684.5,1487.3 1685.8,1484.6 1687.0,1482.9 1688.3,1484.2 1689.5,1482.6 1690.8,1484.6 1692.0,1483.2 1693.3,1485.0 1694.5,1485.3 1695.8,1485.9 1697.0,1485.4 1698.3,1484.7 1699.5,1485.2 1700.8,1483.9 1702.0,1484.4 1703.3,1483.7 1704.5,1481.5 1705.8,1484.8 1707.0,1486.8 1708.3,1485.1 1709.5,1485.0 1710.8,1484.5 1712.0,1483.0 1713.3,1481.7 1714.5,1484.1 1715.8,1483.9 1717.0,1482.5 1718.3,1481.8 1719.5,1481.2 1720.8,1480.2 1722.0,1480.0 1723.3,1479.0 1724.5,1478.8 1725.8,1477.0 1727.0,1477.6 1728.3,1479.6 1729.5,1478.7 1730.8,1476.1 1732.0,1479.8 1733.3,1477.1 1734.5,1483.1 1735.8,1481.9 1737.0,1482.0 1738.3,1480.1 1739.5,1478.7 1740.8,1478.3 1742.0,1476.8 1743.3,1474.3 1744.5,1474.7 1745.8,1475.4 1747.0,1475.5 1748.3,1473.5 1749.5,1472.2 1750.8,1475.2 1752.0,1474.5 1753.3,1476.0 1754.5,1477.5 1755.8,1477.4 1757.0,1475.4 1758.3,1476.5 1759.5,1477.1 1760.8,1475.0 1762.0,1475.3 1763.3,1475.9 1764.5,1473.9 1765.8,1472.0 1767.0,1470.1 1768.3,1469.7 1769.5,1468.1 1770.8,1469.7 1772.0,1468.1 1773.3,1470.4 1774.5,1469.7 1775.8,1465.7 1777.0,1467.8 1778.3,1464.9 1779.5,1466.6 1780.8,1465.2 1782.0,1464.7 1783.3,1465.9 1784.5,1464.3 1785.8,1465.2 1787.0,1464.6 1788.3,1463.1 1789.5,1462.9 1790.8,1460.4 1792.0,1462.1 1793.3,1459.7 1794.5,1462.3 1795.8,1462.4 1797.0,1462.9 1798.3,1461.3 1799.5,1465.9 1800.8,1461.5 1802.0,1461.7 1803.3,1460.3 1804.5,1462.9 1805.8,1460.2 1807.0,1461.9 1808.3,1459.3 1809.5,1461.0 1810.8,1460.2 1812.0,1461.8 1813.3,1459.7 1814.5,1458.2 1815.8,1458.9 1817.0,1455.7 1818.3,1455.0 1819.5,1456.4 1820.8,1452.3 1822.0,1455.0 1823.3,1452.7 1824.5,1451.2 1825.8,1451.7 1827.0,1451.3 1828.3,1448.9 1829.5,1448.9 1830.8,1449.7 1832.0,1449.3 1833.3,1447.9 1834.5,1446.7 1835.8,1446.4 1837.0,1446.9 1838.3,1448.5 1839.5,1448.1 1840.8,1447.4 1842.0,1448.4 1843.3,1445.8 1844.5,1445.3 1845.8,1444.9 1847.0,1447.5 1848.3,1441.9 1849.5,1444.4 1850.8,1443.9 1852.0,1442.8 1853.3,1445.2 1854.5,1443.3 1855.8,1442.5 1857.0,1440.0 1858.3,1441.3 1859.5,1439.7 1860.8,1439.6 1862.0,1439.3 1863.3,1437.7 1864.5,1438.2 1865.8,1438.3 1867.0,1436.3 1868.3,1434.1 1869.5,1430.2 1870.8,1433.1 1872.0,1432.2 1873.3,1429.8 1874.5,1428.9 1875.8,1430.3 1877.0,1428.5 1878.3,1430.7 1879.5,1428.1 1880.8,1428.1 1882.0,1429.1 1883.3,1427.0 1884.5,1428.7 1885.8,1429.2 1887.0,1426.7 1888.3,1429.0 1889.5,1426.2 1890.8,1426.6 1892.0,1424.9 1893.3,1422.7 1894.5,1421.2 1895.8,1418.3 1897.0,1418.5 1898.3,1417.9 1899.5,1420.8 1900.8,1420.2 1902.0,1417.3 1903.3,1420.2 1904.5,1419.2 1905.8,1418.0 1907.0,1418.5 1908.3,1418.1 1909.5,1415.0 1910.8,1413.7 1912.0,1412.6 1913.3,1409.7 1914.5,1410.2 1915.8,1409.0 1917.0,1407.4 1918.3,1406.4 1919.5,1407.1 1920.8,1407.0 1922.0,1405.7 1923.3,1403.8 1924.5,1405.6 1925.8,1404.7 1927.0,1405.0 1928.3,1405.5 1929.5,1402.5 1930.8,1403.1 1932.0,1402.4 1933.3,1402.2 1934.5,1406.0 1935.8,1404.6 1937.0,1400.6 1938.3,1402.6 1939.5,1400.4 1940.8,1401.6 1942.0,1399.6 1943.3,1398.9 1944.5,1399.3 1945.8,1399.8 1947.0,1399.5 1948.3,1399.1 1949.5,1399.0 1950.8,1399.5 1952.0,1396.8 1953.3,1397.1 1954.5,1395.6 1955.8,1393.8 1957.0,1394.2 1958.3,1391.1 1959.5,1392.3 1960.8,1392.1 1962.0,1394.4 1963.3,1393.6 1964.5,1394.6 1965.8,1395.2 1967.0,1392.8 1968.3,1395.4 1969.5,1393.7 1970.8,1393.9 1972.0,1393.5 1973.3,1394.1 1974.5,1393.5 1975.8,1394.4 1977.0,1392.1 1978.3,1390.9 1979.5,1390.4 1980.8,1391.5 1982.0,1392.5 1983.3,1390.7 1984.5,1389.7 1985.8,1391.7 1987.0,1392.9 1988.3,1393.6 1989.5,1393.3 1990.8,1391.2 1992.0,1393.7 1993.3,1395.6 1994.5,1394.0 1995.8,1390.2 1997.0,1392.3 1998.3,1389.6 1999.5,1394.5 2000.8,1392.5 2002.0,1391.0 2003.3,1393.5 2004.5,1391.2 2005.8,1392.7 2007.0,1392.4 2008.3,1392.0 2009.5,1395.7 2010.8,1394.1 2012.0,1397.8 2013.3,1395.8 2014.5,1393.9 2015.8,1392.1 2017.0,1395.6 2018.3,1394.5 2019.5,1390.2 2020.8,1392.9 2022.0,1390.0 2023.3,1388.4 2024.5,1387.6 2025.8,1386.6 2027.0,1388.4 2028.3,1387.4 2029.5,1386.6 2030.8,1393.7 2032.0,1394.0 2033.3,1392.5 2034.5,1393.6 2035.8,1392.8 2037.0,1393.7 2038.3,1393.4 2039.5,1392.4 2040.8,1390.3 2042.0,1389.0 2043.3,1389.9 2044.5,1387.7 2045.8,1389.9 2047.0,1385.5 2048.3,1387.2 2049.5,1385.7 2050.8,1384.2 2052.0,1386.7 2053.3,1385.4 2054.5,1384.7 2055.8,1386.1 2057.0,1388.3 2058.3,1385.6 2059.5,1388.3 2060.8,1385.9 2062.0,1382.8 2063.3,1383.2 2064.5,1382.8 2065.8,1381.2 2067.0,1380.7 2068.3,1382.9 2069.5,1382.3 2070.8,1379.0 2072.0,1379.7 2073.3,1379.4 2074.5,1378.5 2075.8,1375.9 2077.0,1377.6 2078.3,1375.3 2079.5,1374.4 2080.8,1375.7 2082.0,1373.2 2083.3,1374.2 2084.5,1375.0 2085.8,1374.3 2087.0,1374.7 2088.3,1375.5 2089.5,1374.0 2090.8,1375.2 2092.0,1372.1 2093.3,1373.0 2094.5,1370.8 2095.8,1372.4 2097.0,1371.7 2098.3,1373.6 2099.5,1371.3 2100.8,1369.3 2102.0,1369.8 2103.3,1369.1 2104.5,1368.7 2105.8,1367.7 2107.0,1368.0 2108.3,1371.3 2109.5,1372.5 2110.8,1373.7 2112.0,1375.8 2113.3,1375.6 2114.5,1380.9 2115.8,1378.2 2117.0,1379.0 2118.3,1380.4 2119.5,1377.5 2120.8,1381.0 2122.0,1381.5 2123.3,1380.8 2124.5,1381.2 2125.8,1383.4 2127.0,1383.1 2128.3,1388.6 2129.5,1388.0 2130.8,1388.1 2132.0,1388.7 2133.3,1391.4 2134.5,1393.4 2135.8,1390.8 2137.0,1392.7 2138.3,1392.5 2139.5,1396.9 2140.8,1397.4 2142.0,1401.3 2143.3,1399.4 2144.5,1400.3 2145.8,1401.3 2147.0,1404.5 2148.3,1402.2 2149.5,1406.1 2150.8,1406.3 2152.0,1406.4 2153.3,1407.1 2154.5,1411.0 2155.8,1413.6 2157.0,1412.4 2158.3,1415.5 2159.5,1419.6 2160.8,1418.8 2162.0,1420.5 2163.3,1420.2 2164.5,1422.4 2165.8,1423.1 2167.0,1423.1 2168.3,1423.1 2169.5,1422.2 2170.8,1422.5 2172.0,1422.7 2173.3,1424.5 2174.5,1422.9 2175.8,1422.5 2177.0,1424.6 2178.3,1424.6 2179.5,1422.9 2180.8,1422.9 2182.0,1424.4 2183.3,1424.1 2184.5,1423.0 2185.8,1425.0 2187.0,1425.4 2188.3,1427.7 2189.5,1425.9 2190.8,1429.3 2192.0,1430.0 2193.3,1429.4 2194.5,1432.9 2195.8,1433.3 2197.0,1430.9 2198.3,1435.4 2199.5,1431.5 2200.8,1431.8 2202.0,1432.7 2203.3,1434.6 2204.5,1435.3 2205.8,1435.4 2207.0,1438.2 2208.3,1437.3 2209.5,1438.7 2210.8,1440.5 2212.0,1437.2 2213.3,1433.8 2214.5,1436.8 2215.8,1435.9 2217.0,1437.1 2218.3,1436.9 2219.5,1435.3 2220.8,1435.8 2222.0,1437.6 2223.3,1438.4 2224.5,1436.0 2225.8,1441.7 2227.0,1441.6 2228.3,1442.7 2229.5,1444.1 2230.8,1442.9 2232.0,1444.1 2233.3,1444.5 2234.5,1442.8 2235.8,1439.8 2237.0,1436.7 2238.3,1434.2 2239.5,1436.4 2240.8,1435.9 2242.0,1436.1 2243.3,1435.7 2244.5,1439.3 2245.8,1440.3 2247.0,1448.1 2248.3,1450.3 2249.5,1451.4 2250.8,1452.2 2252.0,1455.3 2253.3,1452.3 2254.5,1447.4 2255.8,1447.4 2257.0,1444.7 2258.3,1443.7 2259.5,1446.6 2260.8,1450.3 2262.0,1449.8 2263.3,1448.1 2264.5,1447.6 2265.8,1447.9 2267.0,1448.3 2268.3,1444.3 2269.5,1443.3 2270.8,1448.2 2272.0,1446.3 2273.3,1448.3 2274.5,1446.8 2275.8,1449.1 2277.0,1447.3 2278.3,1450.2 2279.5,1453.2 2280.8,1454.2 2282.0,1453.9 2283.3,1458.2 2284.5,1459.4 2285.8,1461.6 2287.0,1466.7 2288.3,1469.2 2289.5,1469.4 2290.8,1467.2 2292.0,1470.5 2293.3,1470.8 2294.5,1469.7 2295.8,1467.4 2297.0,1472.7 2298.3,1473.2 2299.5,1473.5 2300.8,1471.3 2302.0,1472.2 2303.3,1475.8 2304.5,1475.4 2305.8,1474.8 2307.0,1473.9 2308.3,1475.3 2309.5,1474.8 2310.8,1476.0 2312.0,1475.9 2313.3,1477.8 2314.5,1477.1 2315.8,1479.4 2317.0,1479.7 2318.3,1478.5 2319.5,1483.1 2320.8,1480.2 2322.0,1483.4 2323.3,1485.2 2324.5,1486.4 2325.8,1482.5 2327.0,1487.5 2328.3,1488.2 2329.5,1488.6 2330.8,1483.4 2332.0,1484.9 2333.3,1484.9 2334.5,1483.6 2335.8,1485.2 2337.0,1481.9 2338.3,1484.4 2339.5,1484.1 2340.8,1482.6 2342.0,1484.9 2343.3,1487.3 2344.5,1489.5 2345.8,1491.9 2347.0,1491.0 2348.3,1493.0 2349.5,1489.9 2350.8,1487.8 2352.0,1491.2 2353.3,1491.6 2354.5,1489.8 2355.8,1488.5 2357.0,1490.4 2358.3,1492.7 2359.5,1490.1 2360.8,1489.1 2362.0,1488.5 2363.3,1491.8 2364.5,1488.7 2365.8,1489.4 2367.0,1491.2 2368.3,1492.6 2369.5,1491.8 2370.8,1496.1 2372.0,1497.4 2373.3,1497.9 2374.5,1499.7 2375.8,1498.6 2377.0,1500.1 2378.3,1500.1 2379.5,1502.1 2380.8,1500.1 2382.0,1501.3 2383.3,1498.8 2384.5,1499.4 2385.8,1498.0 2387.0,1497.2 2388.3,1496.6 2389.5,1495.6 2390.8,1495.5 2392.0,1493.3 2393.3,1498.1 2394.5,1496.4 2395.8,1497.6 2397.0,1497.4 2398.3,1500.5 2399.5,1498.5 2400.8,1501.0 2402.0,1502.5 2403.3,1503.5 2404.5,1503.1 2405.8,1502.3 2407.0,1499.6 2408.3,1502.6 2409.5,1501.8 2410.8,1500.7 2412.0,1500.2 2413.3,1499.2 2414.5,1498.7 2415.8,1501.2 2417.0,1501.8 2418.3,1499.1 2419.5,1502.1 2420.8,1501.6 2422.0,1502.7 2423.3,1501.7 2424.5,1502.6 2425.8,1502.3 2427.0,1502.3 2428.3,1499.5 2429.5,1502.8 2430.8,1501.7 2432.0,1499.9 2433.3,1502.0 2434.5,1498.7 2435.8,1501.3 2439.4,1502.1"/>
</g>
<path d="M384.8,14 V1624 M352.5,1594.0 H2437.8 M367.5,1374.7 H384.8 M352.5,1155.2 H384.8 M367.5,935.8 H384.8 M352.5,716.4 H384.8 M367.5,497.0 H384.8 M352.5,277.5 H384.8 M367.5,58.1 H384.8 M677.7,1594.0 V1611 M970.7,1594.0 V1624.5 M1263.6,1594.0 V1611 M1556.5,1594.0 V1624.5 M1849.4,1594.0 V1611 M2142.4,1594.0 V1624.5 M2435.3,1594.0 V1611" stroke="#000" stroke-width="5" fill="none" stroke-linecap="butt"/>
<text x="280.0" y="1618.4" font-size="92.5" fill="#000">0</text>
<text x="177.1" y="1179.5" font-size="92.5" fill="#000">500</text>
<text x="125.6" y="740.7" dx="3.7 -3.7" font-size="92.5" fill="#000">1000</text>
<text x="125.6" y="301.8" dx="3.7 -3.7" font-size="92.5" fill="#000">1500</text>
<text x="357.3" y="1714.6" font-size="92.5" fill="#000">0</text>
<text x="865.4" y="1714.6" dx="3.7 -3.7" font-size="92.5" fill="#000">1000</text>
<text x="1451.2" y="1714.6" font-size="92.5" fill="#000">2000</text>
<text x="2038.2" y="1714.6" font-size="92.5" fill="#000">3000</text>
<text x="1009.6" y="1841.1" font-size="92.4" fill="#000">Raman shift, cm</text>
<text x="1678.5" y="1800.0" font-size="93" fill="#000">-1</text>
<text transform="translate(86.6,749.4) rotate(-90) scale(1,1.035)" font-size="94.4" fill="#000">Intensity, a.u.</text>
<text x="1292.5" y="155.0" dx="3.2 -3.2" font-size="79" fill="#000">1604</text>
<text x="1040.6" y="251.1" dx="3.2 -3.2" font-size="79" fill="#000">1347</text>
<text x="674.4" y="1016.9" font-size="79" fill="#000">580</text>
<text x="788.8" y="1172.2" font-size="79" fill="#000">643</text>
<text x="543.6" y="1229.4" font-size="79" fill="#000">505</text>
<text x="1383.6" y="501.7" font-size="90" fill="#0000ff">1</text>
<text x="1377.4" y="954.5" font-size="90.5" fill="#00ff00">2</text>
<text x="1399.1" y="1271.0" font-size="88.5" fill="#ff0000">3</text>
</svg>
</body>
</html>
